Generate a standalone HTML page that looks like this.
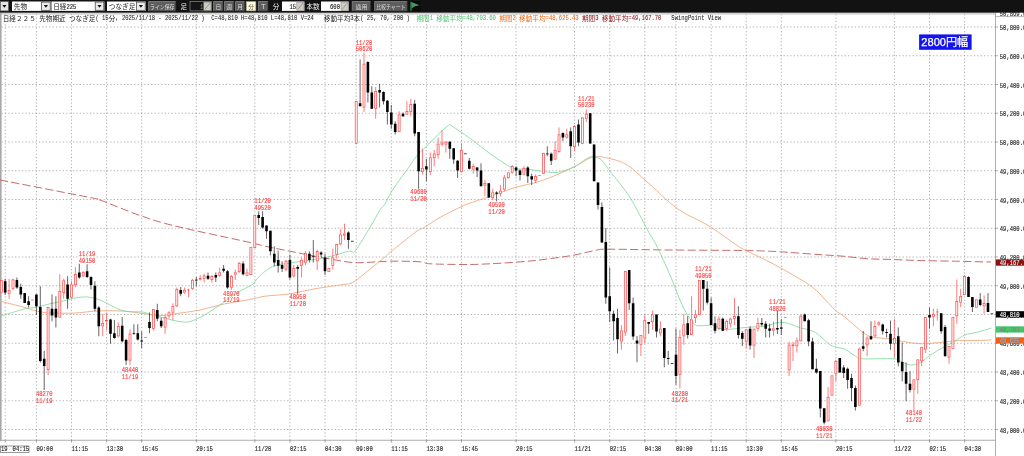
<!DOCTYPE html>
<html lang="ja"><head><meta charset="utf-8"><title>日経225 先物 チャート</title><style>
html,body{margin:0;padding:0;background:#fff;}
body{width:1024px;height:456px;position:relative;overflow:hidden;font-family:"Liberation Mono","Noto Sans CJK JP",monospace;}
svg{display:block;}
</style></head><body>
<svg width="1024" height="456" viewBox="0 0 1024 456" style="position:absolute;left:0;top:0">
<g stroke="#747474" stroke-width="0.55" stroke-dasharray="1.3 2.1" fill="none">
<path d="M1.5 429.50H995.5"/>
<path d="M1.5 400.75H995.5"/>
<path d="M1.5 372.00H995.5"/>
<path d="M1.5 343.25H995.5"/>
<path d="M1.5 314.50H995.5"/>
<path d="M1.5 285.75H995.5"/>
<path d="M1.5 257.00H995.5"/>
<path d="M1.5 228.25H995.5"/>
<path d="M1.5 199.50H995.5"/>
<path d="M1.5 170.75H995.5"/>
<path d="M1.5 142.00H995.5"/>
<path d="M1.5 113.25H995.5"/>
<path d="M1.5 84.50H995.5"/>
<path d="M1.5 55.75H995.5"/>
<path d="M1.5 27.00H995.5"/>
<path d="M5.25 14.0V440.25"/>
<path d="M36.40 14.0V440.25"/>
<path d="M71.50 14.0V440.25"/>
<path d="M106.60 14.0V440.25"/>
<path d="M141.70 14.0V440.25"/>
<path d="M196.30 14.0V440.25"/>
<path d="M254.80 14.0V440.25"/>
<path d="M289.90 14.0V440.25"/>
<path d="M325.00 14.0V440.25"/>
<path d="M356.20 14.0V440.25"/>
<path d="M391.30 14.0V440.25"/>
<path d="M426.40 14.0V440.25"/>
<path d="M461.50 14.0V440.25"/>
<path d="M516.10 14.0V440.25"/>
<path d="M574.60 14.0V440.25"/>
<path d="M609.70 14.0V440.25"/>
<path d="M644.80 14.0V440.25"/>
<path d="M676.00 14.0V440.25"/>
<path d="M711.10 14.0V440.25"/>
<path d="M746.20 14.0V440.25"/>
<path d="M781.30 14.0V440.25"/>
<path d="M835.90 14.0V440.25"/>
<path d="M894.40 14.0V440.25"/>
<path d="M929.50 14.0V440.25"/>
<path d="M964.60 14.0V440.25"/>
</g>
<path d="M0 13.8H995.5" stroke="#c4c4c4" stroke-width="1.2"/>
<rect x="0" y="13" width="1.6" height="427.75" fill="#a8a8a8"/>
<path d="M0 440.25H995.5" stroke="#999" stroke-width="0.8"/>
<path d="M995.5 13V456" stroke="#999" stroke-width="0.8"/>
<g stroke="#777" stroke-width="0.7">
<path d="M5.25 440.25v2.2"/>
<path d="M36.40 440.25v2.2"/>
<path d="M71.50 440.25v2.2"/>
<path d="M106.60 440.25v2.2"/>
<path d="M141.70 440.25v2.2"/>
<path d="M196.30 440.25v2.2"/>
<path d="M254.80 440.25v2.2"/>
<path d="M289.90 440.25v2.2"/>
<path d="M325.00 440.25v2.2"/>
<path d="M356.20 440.25v2.2"/>
<path d="M391.30 440.25v2.2"/>
<path d="M426.40 440.25v2.2"/>
<path d="M461.50 440.25v2.2"/>
<path d="M516.10 440.25v2.2"/>
<path d="M574.60 440.25v2.2"/>
<path d="M609.70 440.25v2.2"/>
<path d="M644.80 440.25v2.2"/>
<path d="M676.00 440.25v2.2"/>
<path d="M711.10 440.25v2.2"/>
<path d="M746.20 440.25v2.2"/>
<path d="M781.30 440.25v2.2"/>
<path d="M835.90 440.25v2.2"/>
<path d="M894.40 440.25v2.2"/>
<path d="M929.50 440.25v2.2"/>
<path d="M964.60 440.25v2.2"/>
</g>
<path d="M0.0 180.0C15.0 182.9 73.3 194.2 90.0 197.5C106.7 200.8 91.7 197.0 100.0 200.0C108.3 203.0 127.5 211.2 140.0 215.5C152.5 219.8 156.7 221.5 175.0 226.0C193.3 230.5 235.0 239.1 250.0 242.5C265.0 245.9 258.3 244.8 265.0 246.2C271.7 247.7 281.7 249.6 290.0 251.2C298.3 252.9 306.7 254.7 315.0 256.2C323.3 257.8 333.8 259.7 340.0 260.8C346.2 261.8 348.3 262.2 352.5 262.5C356.7 262.8 358.8 262.7 365.0 262.5C371.2 262.3 380.8 261.4 390.0 261.2C399.2 261.1 413.3 261.3 420.0 261.8C426.7 262.2 422.5 263.3 430.0 263.8C437.5 264.2 455.0 264.5 465.0 264.5C475.0 264.5 479.2 264.3 490.0 263.8C500.8 263.2 516.7 262.3 530.0 261.0C543.3 259.7 559.2 257.5 570.0 255.8C580.8 254.0 588.8 251.6 595.0 250.5C601.2 249.4 595.0 249.3 607.5 249.2C620.0 249.2 647.1 249.8 670.0 250.0C692.9 250.2 728.7 250.3 745.0 250.5C761.3 250.7 762.1 251.0 768.0 251.2C773.9 251.5 772.2 251.2 780.5 251.8C788.8 252.3 807.6 253.8 818.0 254.5C828.4 255.2 834.7 255.5 843.0 256.2C851.3 257.0 859.7 258.2 868.0 258.8C876.3 259.3 884.7 259.2 893.0 259.5C901.3 259.8 907.6 260.2 918.0 260.5C928.4 260.8 943.3 261.0 955.5 261.2C967.7 261.5 985.1 261.9 991.0 262.0" fill="none" stroke="#c05a5a" stroke-width="0.9" stroke-dasharray="8.2 3.3"/>
<path d="M0.0 301.2C4.2 302.3 18.8 305.8 25.0 307.5C31.2 309.2 33.3 310.3 37.5 311.2C41.7 312.2 43.8 312.7 50.0 313.0C56.2 313.3 66.7 313.4 75.0 313.0C83.3 312.6 91.7 311.0 100.0 310.8C108.3 310.5 116.7 310.6 125.0 311.2C133.3 311.9 143.8 313.8 150.0 314.5C156.2 315.2 158.3 315.6 162.5 315.5C166.7 315.4 168.8 314.7 175.0 313.8C181.2 312.8 191.7 311.7 200.0 310.0C208.3 308.3 216.7 305.5 225.0 303.8C233.3 302.0 243.3 300.8 250.0 299.5C256.7 298.2 258.3 297.2 265.0 296.2C271.7 295.3 281.7 295.0 290.0 293.8C298.3 292.5 306.7 290.2 315.0 288.8C323.3 287.3 333.8 286.0 340.0 285.0C346.2 284.0 348.3 284.5 352.5 282.5C356.7 280.5 359.8 277.3 365.0 273.2C370.2 269.1 379.8 261.2 384.0 257.8C388.2 254.3 384.8 256.7 390.0 252.5C395.2 248.3 409.2 236.8 415.0 232.5C420.8 228.2 420.8 229.5 425.0 227.0C429.2 224.5 433.3 221.2 440.0 217.5C446.7 213.8 456.7 208.5 465.0 205.0C473.3 201.5 481.7 199.4 490.0 196.5C498.3 193.6 506.7 190.0 515.0 187.5C523.3 185.0 531.7 184.0 540.0 181.2C548.3 178.5 558.8 174.0 565.0 171.2C571.2 168.5 573.3 167.2 577.5 165.0C581.7 162.8 587.1 159.2 590.0 158.0C592.9 156.8 592.9 157.7 595.0 157.5C597.1 157.3 597.5 156.0 602.5 157.0C607.5 158.0 617.9 159.9 625.0 163.8C632.1 167.6 636.2 172.5 645.0 180.0C653.8 187.5 667.1 201.2 677.5 208.8C687.9 216.2 697.9 219.1 707.5 225.0C717.1 230.9 728.8 239.8 735.0 244.0C741.2 248.2 739.5 247.1 745.0 250.0C750.5 252.9 760.0 257.1 768.0 261.2C776.0 265.4 785.5 270.6 793.0 275.0C800.5 279.4 807.6 283.3 813.0 287.5C818.4 291.7 821.8 296.1 825.5 300.0C829.2 303.9 832.6 308.0 835.5 310.6C838.4 313.2 839.7 313.0 843.0 315.6C846.3 318.2 852.2 323.4 855.5 326.2C858.8 329.1 860.7 330.8 863.0 332.5C865.3 334.2 867.2 335.0 869.2 336.2C870.9 336.7 871.1 337.1 874.2 337.5C877.4 337.9 884.4 338.3 888.0 338.8C891.6 339.2 892.6 339.4 896.0 340.0C899.4 340.6 904.3 341.9 908.5 342.5C912.7 343.1 916.8 343.6 921.0 343.8C925.2 343.9 929.3 343.4 933.5 343.1C937.7 342.8 941.8 342.3 946.0 341.9C950.2 341.5 953.3 340.8 958.5 340.6C963.7 340.4 971.7 340.7 977.2 340.6C982.8 340.5 989.2 339.9 991.6 339.8" fill="none" stroke="#f0a070" stroke-width="0.8"/>
<path d="M0.0 316.2C2.1 315.6 8.3 313.8 12.5 312.5C16.7 311.2 20.8 309.7 25.0 308.8C29.2 307.8 33.3 307.8 37.5 307.0C41.7 306.2 45.8 304.7 50.0 303.8C54.2 302.8 58.3 302.2 62.5 301.2C66.7 300.3 70.8 298.7 75.0 298.0C79.2 297.3 83.3 296.7 87.5 297.0C91.7 297.3 95.8 298.5 100.0 300.0C104.2 301.5 108.3 304.4 112.5 306.2C116.7 308.1 120.0 310.3 125.0 311.2C130.0 312.2 138.3 311.5 142.5 312.0C146.7 312.5 146.7 313.6 150.0 314.5C153.3 315.4 158.3 316.5 162.5 317.5C166.7 318.5 170.8 320.0 175.0 320.8C179.2 321.5 183.3 322.5 187.5 322.0C191.7 321.5 195.8 319.5 200.0 317.5C204.2 315.5 208.3 312.7 212.5 310.0C216.7 307.3 220.8 304.2 225.0 301.2C229.2 298.3 232.9 295.3 237.5 292.5C242.1 289.7 249.4 286.6 252.5 284.5C255.6 282.4 254.2 282.0 256.0 280.0C257.8 278.0 260.8 274.7 263.5 272.5C266.2 270.3 269.3 268.2 272.2 266.9C275.2 265.5 276.8 265.2 281.0 264.4C285.2 263.6 291.4 262.7 297.2 261.9C303.1 261.1 311.2 260.1 316.0 259.4C320.8 258.7 322.7 258.2 326.0 257.5C329.3 256.8 332.2 256.0 336.0 255.0C339.8 254.0 345.7 251.7 348.5 251.2C351.3 250.8 351.4 251.9 352.9 252.2C353.9 251.5 353.1 254.1 356.0 250.0C358.9 245.9 366.0 234.2 370.0 227.5C374.0 220.8 377.5 213.9 380.0 210.0C382.5 206.1 382.9 207.3 385.0 204.0C387.1 200.7 388.5 196.2 392.5 190.0C396.5 183.8 405.0 172.6 409.0 167.0C413.0 161.4 413.6 159.7 416.5 156.2C419.4 152.8 422.3 150.4 426.5 146.2C430.7 142.1 437.6 134.9 441.5 131.2C445.4 127.6 446.9 126.7 449.6 124.4C453.6 127.1 457.4 129.7 461.5 132.5C465.6 135.3 469.2 137.7 474.0 141.2C478.8 144.8 484.4 149.6 490.2 153.8C496.1 157.9 504.9 163.8 509.0 166.2C513.1 168.8 511.5 168.2 515.0 168.8C518.5 169.3 523.8 168.9 530.0 169.5C536.2 170.1 546.7 172.3 552.5 172.5C558.3 172.7 560.8 171.8 565.0 170.5C569.2 169.2 573.3 167.2 577.5 165.0C581.7 162.8 586.2 158.0 590.0 157.0C593.8 156.0 596.7 156.4 600.0 158.8C603.3 161.1 605.0 164.8 610.0 171.2C615.0 177.7 623.8 187.7 630.0 197.5C636.2 207.3 642.9 221.7 647.5 230.0C652.1 238.3 653.8 240.0 657.5 247.5C661.2 255.0 666.2 266.2 670.0 275.0C673.8 283.8 677.1 293.3 680.0 300.0C682.9 306.7 685.0 310.9 687.5 315.0C690.0 319.1 692.9 322.7 695.0 324.5C697.1 326.3 697.1 325.6 700.0 325.8C702.9 325.9 708.3 324.9 712.5 325.5C716.7 326.1 719.6 329.2 725.0 329.5C730.4 329.8 738.3 328.0 745.0 327.5C751.7 327.0 761.2 326.6 765.0 326.2C768.8 325.9 766.2 326.1 768.0 325.6C769.8 325.1 772.8 323.6 775.5 323.1C778.2 322.6 781.3 322.2 784.2 322.5C787.2 322.8 790.3 324.1 793.0 325.0C795.7 325.9 798.4 327.4 800.5 328.1C802.6 328.8 803.0 328.3 805.5 329.0C808.0 329.7 812.6 330.9 815.5 332.5C818.4 334.1 820.5 336.7 823.0 338.8C825.5 340.8 828.0 343.5 830.5 345.0C833.0 346.5 835.5 346.8 838.0 347.5C840.5 348.2 842.6 347.9 845.5 349.4C848.4 350.9 852.6 354.7 855.5 356.2C858.4 357.8 856.8 358.3 863.0 358.8C869.2 359.2 886.8 358.3 893.0 358.8C899.2 359.2 897.6 360.2 900.5 361.2C903.4 362.3 907.2 364.8 910.5 365.0C913.8 365.2 917.2 364.2 920.5 362.5C923.8 360.8 926.8 357.5 930.5 355.0C934.2 352.5 939.0 349.8 943.0 347.5C947.0 345.2 951.1 343.3 954.8 341.2C958.4 339.2 961.2 336.5 964.8 335.0C968.3 333.5 971.5 333.6 976.0 332.5C980.5 331.4 989.0 328.8 991.6 328.1" fill="none" stroke="#78d898" stroke-width="0.8"/>
<rect x="0.30" y="280.30" width="2.00" height="11.90" fill="#fff6f6" stroke="#ff4444" stroke-width="0.7"/>
<path d="M5.20 278.75V295.00" stroke="#222" stroke-width="0.7"/>
<rect x="3.90" y="281.25" width="2.60" height="11.25" fill="#000"/>
<path d="M9.10 278.75V290.00" stroke="#ff4444" stroke-width="0.7"/>
<path d="M9.10 293.75V298.75" stroke="#ff4444" stroke-width="0.7"/>
<rect x="8.10" y="290.30" width="2.00" height="3.15" fill="#fff6f6" stroke="#ff4444" stroke-width="0.7"/>
<path d="M13.00 278.75V279.50" stroke="#ff4444" stroke-width="0.7"/>
<path d="M13.00 288.75V290.00" stroke="#ff4444" stroke-width="0.7"/>
<rect x="12.00" y="279.80" width="2.00" height="8.65" fill="#fff6f6" stroke="#ff4444" stroke-width="0.7"/>
<path d="M16.90 277.50V288.75" stroke="#222" stroke-width="0.7"/>
<rect x="15.60" y="280.00" width="2.60" height="7.50" fill="#000"/>
<path d="M20.80 283.75V298.75" stroke="#222" stroke-width="0.7"/>
<rect x="19.50" y="287.00" width="2.60" height="7.50" fill="#000"/>
<path d="M24.70 293.00V303.00" stroke="#222" stroke-width="0.7"/>
<rect x="23.40" y="293.00" width="2.60" height="10.00" fill="#000"/>
<path d="M28.60 296.25V307.50" stroke="#222" stroke-width="0.7"/>
<rect x="27.30" y="301.25" width="2.60" height="3.75" fill="#000"/>
<path d="M32.50 300.00V300.00M31.20 300.00h2.6" stroke="#ff4444" stroke-width="0.7" fill="none"/>
<path d="M36.40 294.50V315.00" stroke="#222" stroke-width="0.7"/>
<rect x="35.10" y="294.50" width="2.60" height="11.75" fill="#000"/>
<path d="M40.30 286.25V362.50" stroke="#222" stroke-width="0.7"/>
<rect x="39.00" y="307.00" width="2.60" height="54.00" fill="#000"/>
<path d="M44.20 351.00V390.00" stroke="#222" stroke-width="0.7"/>
<rect x="42.90" y="358.75" width="2.60" height="7.25" fill="#000"/>
<path d="M48.10 370.00V375.00" stroke="#ff4444" stroke-width="0.7"/>
<rect x="47.10" y="307.30" width="2.00" height="62.40" fill="#fff6f6" stroke="#ff4444" stroke-width="0.7"/>
<path d="M52.00 294.50V321.25" stroke="#222" stroke-width="0.7"/>
<rect x="50.70" y="308.75" width="2.60" height="6.75" fill="#000"/>
<path d="M55.90 296.25V327.50" stroke="#222" stroke-width="0.7"/>
<rect x="54.60" y="308.75" width="2.60" height="8.75" fill="#000"/>
<path d="M59.80 274.25V291.25" stroke="#ff4444" stroke-width="0.7"/>
<rect x="58.80" y="291.55" width="2.00" height="25.65" fill="#fff6f6" stroke="#ff4444" stroke-width="0.7"/>
<path d="M63.70 278.75V280.50" stroke="#ff4444" stroke-width="0.7"/>
<path d="M63.70 293.00V298.75" stroke="#ff4444" stroke-width="0.7"/>
<rect x="62.70" y="280.80" width="2.00" height="11.90" fill="#fff6f6" stroke="#ff4444" stroke-width="0.7"/>
<path d="M67.60 276.25V308.75" stroke="#222" stroke-width="0.7"/>
<rect x="66.30" y="284.50" width="2.60" height="14.25" fill="#000"/>
<path d="M71.50 281.25V284.50" stroke="#ff4444" stroke-width="0.7"/>
<path d="M71.50 297.50V298.75" stroke="#ff4444" stroke-width="0.7"/>
<rect x="70.50" y="284.80" width="2.00" height="12.40" fill="#fff6f6" stroke="#ff4444" stroke-width="0.7"/>
<path d="M75.40 267.00V274.25" stroke="#ff4444" stroke-width="0.7"/>
<path d="M75.40 285.00V287.50" stroke="#ff4444" stroke-width="0.7"/>
<rect x="74.40" y="274.55" width="2.00" height="10.15" fill="#fff6f6" stroke="#ff4444" stroke-width="0.7"/>
<path d="M79.30 263.75V278.75" stroke="#222" stroke-width="0.7"/>
<rect x="78.00" y="272.50" width="2.60" height="5.00" fill="#000"/>
<path d="M83.20 271.25V272.00" stroke="#ff4444" stroke-width="0.7"/>
<path d="M83.20 276.25V277.00" stroke="#ff4444" stroke-width="0.7"/>
<rect x="82.20" y="272.30" width="2.00" height="3.65" fill="#fff6f6" stroke="#ff4444" stroke-width="0.7"/>
<path d="M87.10 264.25V278.00" stroke="#222" stroke-width="0.7"/>
<rect x="85.80" y="271.25" width="2.60" height="5.75" fill="#000"/>
<path d="M91.00 276.25V289.50" stroke="#222" stroke-width="0.7"/>
<rect x="89.70" y="277.00" width="2.60" height="8.00" fill="#000"/>
<path d="M94.90 281.25V311.25" stroke="#222" stroke-width="0.7"/>
<rect x="93.60" y="285.75" width="2.60" height="23.00" fill="#000"/>
<path d="M98.80 306.25V336.25" stroke="#222" stroke-width="0.7"/>
<rect x="97.50" y="307.50" width="2.60" height="18.75" fill="#000"/>
<path d="M102.70 313.75V323.25" stroke="#ff4444" stroke-width="0.7"/>
<path d="M102.70 326.25V336.25" stroke="#ff4444" stroke-width="0.7"/>
<rect x="101.70" y="323.55" width="2.00" height="2.40" fill="#fff6f6" stroke="#ff4444" stroke-width="0.7"/>
<path d="M106.60 312.50V320.25" stroke="#ff4444" stroke-width="0.7"/>
<path d="M106.60 321.25V330.00" stroke="#ff4444" stroke-width="0.7"/>
<rect x="105.60" y="320.55" width="2.00" height="0.40" fill="#fff6f6" stroke="#ff4444" stroke-width="0.7"/>
<path d="M110.50 318.75V343.75" stroke="#222" stroke-width="0.7"/>
<rect x="109.20" y="319.50" width="2.60" height="14.25" fill="#000"/>
<path d="M114.40 320.00V338.75" stroke="#222" stroke-width="0.7"/>
<rect x="113.10" y="333.25" width="2.60" height="4.75" fill="#000"/>
<path d="M118.30 322.50V326.25" stroke="#ff4444" stroke-width="0.7"/>
<path d="M118.30 336.25V337.50" stroke="#ff4444" stroke-width="0.7"/>
<rect x="117.30" y="326.55" width="2.00" height="9.40" fill="#fff6f6" stroke="#ff4444" stroke-width="0.7"/>
<path d="M122.20 317.00V342.50" stroke="#222" stroke-width="0.7"/>
<rect x="120.90" y="325.75" width="2.60" height="15.50" fill="#000"/>
<path d="M126.10 338.75V365.00" stroke="#222" stroke-width="0.7"/>
<rect x="124.80" y="340.00" width="2.60" height="20.50" fill="#000"/>
<path d="M130.00 329.50V333.75" stroke="#ff4444" stroke-width="0.7"/>
<path d="M130.00 360.50V365.00" stroke="#ff4444" stroke-width="0.7"/>
<rect x="129.00" y="334.05" width="2.00" height="26.15" fill="#fff6f6" stroke="#ff4444" stroke-width="0.7"/>
<path d="M133.90 324.25V335.00" stroke="#222" stroke-width="0.7"/>
<path d="M132.60 333.38h2.6" stroke="#111" stroke-width="0.8"/>
<path d="M137.80 324.25V340.50" stroke="#222" stroke-width="0.7"/>
<rect x="136.50" y="333.25" width="2.60" height="6.25" fill="#000"/>
<path d="M141.70 331.25V348.25" stroke="#222" stroke-width="0.7"/>
<rect x="140.40" y="340.50" width="2.60" height="1.00" fill="#000"/>
<path d="M145.60 337.50V337.50M144.30 337.50h2.6" stroke="#ff4444" stroke-width="0.7" fill="none"/>
<path d="M149.50 312.50V333.25" stroke="#222" stroke-width="0.7"/>
<rect x="148.20" y="322.00" width="2.60" height="6.00" fill="#000"/>
<path d="M153.40 308.75V309.25" stroke="#ff4444" stroke-width="0.7"/>
<path d="M153.40 328.75V330.50" stroke="#ff4444" stroke-width="0.7"/>
<rect x="152.40" y="309.55" width="2.00" height="18.90" fill="#fff6f6" stroke="#ff4444" stroke-width="0.7"/>
<path d="M157.30 303.75V321.25" stroke="#222" stroke-width="0.7"/>
<rect x="156.00" y="310.00" width="2.60" height="8.75" fill="#000"/>
<path d="M161.20 317.50V328.00" stroke="#222" stroke-width="0.7"/>
<rect x="159.90" y="320.75" width="2.60" height="5.50" fill="#000"/>
<path d="M165.10 315.50V317.00" stroke="#ff4444" stroke-width="0.7"/>
<path d="M165.10 327.50V333.75" stroke="#ff4444" stroke-width="0.7"/>
<rect x="164.10" y="317.30" width="2.00" height="9.90" fill="#fff6f6" stroke="#ff4444" stroke-width="0.7"/>
<path d="M169.00 311.25V312.50" stroke="#ff4444" stroke-width="0.7"/>
<path d="M169.00 316.25V318.75" stroke="#ff4444" stroke-width="0.7"/>
<rect x="168.00" y="312.80" width="2.00" height="3.15" fill="#fff6f6" stroke="#ff4444" stroke-width="0.7"/>
<path d="M172.90 303.25V306.25" stroke="#ff4444" stroke-width="0.7"/>
<path d="M172.90 312.50V320.00" stroke="#ff4444" stroke-width="0.7"/>
<rect x="171.90" y="306.55" width="2.00" height="5.65" fill="#fff6f6" stroke="#ff4444" stroke-width="0.7"/>
<path d="M176.80 287.50V289.25" stroke="#ff4444" stroke-width="0.7"/>
<path d="M176.80 306.25V307.00" stroke="#ff4444" stroke-width="0.7"/>
<rect x="175.80" y="289.55" width="2.00" height="16.40" fill="#fff6f6" stroke="#ff4444" stroke-width="0.7"/>
<path d="M180.70 287.00V296.25" stroke="#222" stroke-width="0.7"/>
<rect x="179.40" y="290.00" width="2.60" height="3.75" fill="#000"/>
<path d="M184.60 287.50V290.00" stroke="#ff4444" stroke-width="0.7"/>
<path d="M184.60 292.50V293.75" stroke="#ff4444" stroke-width="0.7"/>
<rect x="183.60" y="290.30" width="2.00" height="1.90" fill="#fff6f6" stroke="#ff4444" stroke-width="0.7"/>
<path d="M188.50 288.75V297.00M187.20 290.12h2.6" stroke="#ff4444" stroke-width="0.7" fill="none"/>
<path d="M192.40 278.75V280.00" stroke="#ff4444" stroke-width="0.7"/>
<path d="M192.40 288.75V290.00" stroke="#ff4444" stroke-width="0.7"/>
<rect x="191.40" y="280.30" width="2.00" height="8.15" fill="#fff6f6" stroke="#ff4444" stroke-width="0.7"/>
<path d="M196.30 277.00V286.25" stroke="#222" stroke-width="0.7"/>
<path d="M195.00 280.12h2.6" stroke="#111" stroke-width="0.8"/>
<path d="M200.20 275.00V278.00" stroke="#ff4444" stroke-width="0.7"/>
<path d="M200.20 279.50V280.50" stroke="#ff4444" stroke-width="0.7"/>
<rect x="199.20" y="278.30" width="2.00" height="0.90" fill="#fff6f6" stroke="#ff4444" stroke-width="0.7"/>
<path d="M204.10 273.75V275.50" stroke="#ff4444" stroke-width="0.7"/>
<path d="M204.10 278.75V282.50" stroke="#ff4444" stroke-width="0.7"/>
<rect x="203.10" y="275.80" width="2.00" height="2.65" fill="#fff6f6" stroke="#ff4444" stroke-width="0.7"/>
<path d="M208.00 272.50V280.00" stroke="#222" stroke-width="0.7"/>
<rect x="206.70" y="275.75" width="2.60" height="3.00" fill="#000"/>
<path d="M211.90 275.00V276.25" stroke="#ff4444" stroke-width="0.7"/>
<path d="M211.90 280.00V282.50" stroke="#ff4444" stroke-width="0.7"/>
<rect x="210.90" y="276.55" width="2.00" height="3.15" fill="#fff6f6" stroke="#ff4444" stroke-width="0.7"/>
<path d="M215.80 272.50V282.00" stroke="#222" stroke-width="0.7"/>
<rect x="214.50" y="275.00" width="2.60" height="2.50" fill="#000"/>
<path d="M219.70 267.50V272.50" stroke="#ff4444" stroke-width="0.7"/>
<path d="M219.70 275.75V277.00" stroke="#ff4444" stroke-width="0.7"/>
<rect x="218.70" y="272.80" width="2.00" height="2.65" fill="#fff6f6" stroke="#ff4444" stroke-width="0.7"/>
<path d="M223.60 265.00V272.50" stroke="#222" stroke-width="0.7"/>
<rect x="222.30" y="268.75" width="2.60" height="2.00" fill="#000"/>
<path d="M227.50 270.00V288.75" stroke="#222" stroke-width="0.7"/>
<rect x="226.20" y="271.25" width="2.60" height="16.25" fill="#000"/>
<path d="M231.40 275.00V276.25" stroke="#ff4444" stroke-width="0.7"/>
<path d="M231.40 287.50V290.00" stroke="#ff4444" stroke-width="0.7"/>
<rect x="230.40" y="276.55" width="2.00" height="10.65" fill="#fff6f6" stroke="#ff4444" stroke-width="0.7"/>
<path d="M235.30 269.50V272.50" stroke="#ff4444" stroke-width="0.7"/>
<path d="M235.30 274.50V280.00" stroke="#ff4444" stroke-width="0.7"/>
<rect x="234.30" y="272.80" width="2.00" height="1.40" fill="#fff6f6" stroke="#ff4444" stroke-width="0.7"/>
<path d="M239.20 262.00V263.00" stroke="#ff4444" stroke-width="0.7"/>
<path d="M239.20 272.00V273.00" stroke="#ff4444" stroke-width="0.7"/>
<rect x="238.20" y="263.30" width="2.00" height="8.40" fill="#fff6f6" stroke="#ff4444" stroke-width="0.7"/>
<path d="M243.10 261.25V275.50" stroke="#222" stroke-width="0.7"/>
<rect x="241.80" y="263.50" width="2.60" height="10.75" fill="#000"/>
<path d="M247.00 268.75V272.50" stroke="#ff4444" stroke-width="0.7"/>
<path d="M247.00 275.75V276.25" stroke="#ff4444" stroke-width="0.7"/>
<rect x="246.00" y="272.80" width="2.00" height="2.65" fill="#fff6f6" stroke="#ff4444" stroke-width="0.7"/>
<rect x="249.90" y="247.30" width="2.00" height="27.40" fill="#fff6f6" stroke="#ff4444" stroke-width="0.7"/>
<rect x="253.80" y="215.30" width="2.00" height="32.40" fill="#fff6f6" stroke="#ff4444" stroke-width="0.7"/>
<path d="M258.70 211.25V225.00" stroke="#222" stroke-width="0.7"/>
<rect x="257.40" y="215.00" width="2.60" height="3.00" fill="#000"/>
<path d="M262.60 211.25V228.75" stroke="#222" stroke-width="0.7"/>
<rect x="261.30" y="217.00" width="2.60" height="10.50" fill="#000"/>
<path d="M266.50 225.50V238.75" stroke="#222" stroke-width="0.7"/>
<rect x="265.20" y="225.50" width="2.60" height="5.75" fill="#000"/>
<path d="M270.40 230.75V255.50" stroke="#222" stroke-width="0.7"/>
<rect x="269.10" y="230.75" width="2.60" height="20.50" fill="#000"/>
<path d="M274.30 246.25V266.25" stroke="#222" stroke-width="0.7"/>
<rect x="273.00" y="253.75" width="2.60" height="8.75" fill="#000"/>
<path d="M278.20 250.75V272.50" stroke="#222" stroke-width="0.7"/>
<rect x="276.90" y="260.00" width="2.60" height="5.75" fill="#000"/>
<path d="M282.10 261.25V272.00" stroke="#222" stroke-width="0.7"/>
<rect x="280.80" y="265.00" width="2.60" height="3.75" fill="#000"/>
<path d="M286.00 260.00V260.75" stroke="#ff4444" stroke-width="0.7"/>
<path d="M286.00 269.50V271.25" stroke="#ff4444" stroke-width="0.7"/>
<rect x="285.00" y="261.05" width="2.00" height="8.15" fill="#fff6f6" stroke="#ff4444" stroke-width="0.7"/>
<path d="M289.90 254.50V279.50" stroke="#222" stroke-width="0.7"/>
<rect x="288.60" y="260.00" width="2.60" height="17.50" fill="#000"/>
<path d="M293.80 265.00V268.00" stroke="#ff4444" stroke-width="0.7"/>
<path d="M293.80 276.25V277.50" stroke="#ff4444" stroke-width="0.7"/>
<rect x="292.80" y="268.30" width="2.00" height="7.65" fill="#fff6f6" stroke="#ff4444" stroke-width="0.7"/>
<path d="M297.70 265.00V293.75" stroke="#222" stroke-width="0.7"/>
<rect x="296.40" y="267.00" width="2.60" height="1.75" fill="#000"/>
<path d="M301.60 257.50V260.00" stroke="#ff4444" stroke-width="0.7"/>
<path d="M301.60 265.75V277.50" stroke="#ff4444" stroke-width="0.7"/>
<rect x="300.60" y="260.30" width="2.00" height="5.15" fill="#fff6f6" stroke="#ff4444" stroke-width="0.7"/>
<path d="M305.50 251.25V253.00" stroke="#ff4444" stroke-width="0.7"/>
<path d="M305.50 262.50V265.00" stroke="#ff4444" stroke-width="0.7"/>
<rect x="304.50" y="253.30" width="2.00" height="8.90" fill="#fff6f6" stroke="#ff4444" stroke-width="0.7"/>
<path d="M309.40 251.25V262.50" stroke="#222" stroke-width="0.7"/>
<rect x="308.10" y="253.75" width="2.60" height="6.25" fill="#000"/>
<path d="M313.30 240.00V262.50" stroke="#222" stroke-width="0.7"/>
<path d="M312.00 256.62h2.6" stroke="#111" stroke-width="0.8"/>
<path d="M317.20 249.50V251.25" stroke="#ff4444" stroke-width="0.7"/>
<path d="M317.20 261.25V270.00" stroke="#ff4444" stroke-width="0.7"/>
<rect x="316.20" y="251.55" width="2.00" height="9.40" fill="#fff6f6" stroke="#ff4444" stroke-width="0.7"/>
<path d="M321.10 251.25V257.50" stroke="#222" stroke-width="0.7"/>
<rect x="319.80" y="252.50" width="2.60" height="2.00" fill="#000"/>
<path d="M325.00 253.75V275.00" stroke="#222" stroke-width="0.7"/>
<rect x="323.70" y="257.50" width="2.60" height="13.75" fill="#000"/>
<rect x="327.90" y="268.30" width="2.00" height="3.40" fill="#fff6f6" stroke="#ff4444" stroke-width="0.7"/>
<path d="M332.80 248.75V257.50" stroke="#ff4444" stroke-width="0.7"/>
<path d="M332.80 265.75V269.50" stroke="#ff4444" stroke-width="0.7"/>
<rect x="331.80" y="257.80" width="2.00" height="7.65" fill="#fff6f6" stroke="#ff4444" stroke-width="0.7"/>
<path d="M336.70 243.75V244.25" stroke="#ff4444" stroke-width="0.7"/>
<path d="M336.70 254.50V258.75" stroke="#ff4444" stroke-width="0.7"/>
<rect x="335.70" y="244.55" width="2.00" height="9.65" fill="#fff6f6" stroke="#ff4444" stroke-width="0.7"/>
<path d="M340.60 229.50V234.50" stroke="#ff4444" stroke-width="0.7"/>
<path d="M340.60 244.25V245.00" stroke="#ff4444" stroke-width="0.7"/>
<rect x="339.60" y="234.80" width="2.00" height="9.15" fill="#fff6f6" stroke="#ff4444" stroke-width="0.7"/>
<path d="M344.50 223.75V233.75" stroke="#ff4444" stroke-width="0.7"/>
<path d="M344.50 235.50V240.00" stroke="#ff4444" stroke-width="0.7"/>
<rect x="343.50" y="234.05" width="2.00" height="1.15" fill="#fff6f6" stroke="#ff4444" stroke-width="0.7"/>
<path d="M348.40 231.25V248.75" stroke="#222" stroke-width="0.7"/>
<rect x="347.10" y="232.50" width="2.60" height="7.50" fill="#000"/>
<path d="M351.00 241.25h2.6" stroke="#111" stroke-width="0.8"/>
<rect x="355.20" y="101.55" width="2.00" height="41.90" fill="#fff6f6" stroke="#ff4444" stroke-width="0.7"/>
<path d="M360.10 59.50V106.25" stroke="#222" stroke-width="0.7"/>
<rect x="358.80" y="103.25" width="2.60" height="3.00" fill="#000"/>
<path d="M364.00 52.50V63.75" stroke="#ff4444" stroke-width="0.7"/>
<path d="M364.00 107.50V112.00" stroke="#ff4444" stroke-width="0.7"/>
<rect x="363.00" y="64.05" width="2.00" height="43.15" fill="#fff6f6" stroke="#ff4444" stroke-width="0.7"/>
<path d="M367.90 61.25V102.50" stroke="#222" stroke-width="0.7"/>
<rect x="366.60" y="62.00" width="2.60" height="30.50" fill="#000"/>
<path d="M371.80 86.25V108.75" stroke="#222" stroke-width="0.7"/>
<rect x="370.50" y="92.50" width="2.60" height="16.25" fill="#000"/>
<path d="M375.70 87.00V91.25" stroke="#ff4444" stroke-width="0.7"/>
<path d="M375.70 108.75V118.75" stroke="#ff4444" stroke-width="0.7"/>
<rect x="374.70" y="91.55" width="2.00" height="16.90" fill="#fff6f6" stroke="#ff4444" stroke-width="0.7"/>
<path d="M379.60 83.75V107.50" stroke="#222" stroke-width="0.7"/>
<rect x="378.30" y="90.00" width="2.60" height="2.50" fill="#000"/>
<path d="M383.50 91.25V104.50" stroke="#222" stroke-width="0.7"/>
<rect x="382.20" y="92.00" width="2.60" height="9.25" fill="#000"/>
<path d="M387.40 100.00V124.50" stroke="#222" stroke-width="0.7"/>
<rect x="386.10" y="100.75" width="2.60" height="11.25" fill="#000"/>
<path d="M391.30 105.00V128.75" stroke="#222" stroke-width="0.7"/>
<rect x="390.00" y="112.50" width="2.60" height="12.00" fill="#000"/>
<path d="M395.20 121.25V134.50" stroke="#222" stroke-width="0.7"/>
<rect x="393.90" y="123.75" width="2.60" height="8.25" fill="#000"/>
<path d="M399.10 111.25V114.50" stroke="#ff4444" stroke-width="0.7"/>
<rect x="398.10" y="114.80" width="2.00" height="16.90" fill="#fff6f6" stroke="#ff4444" stroke-width="0.7"/>
<path d="M403.00 112.50V117.00" stroke="#222" stroke-width="0.7"/>
<rect x="401.70" y="113.75" width="2.60" height="2.50" fill="#000"/>
<path d="M406.90 101.25V111.25" stroke="#ff4444" stroke-width="0.7"/>
<path d="M406.90 114.50V115.00" stroke="#ff4444" stroke-width="0.7"/>
<rect x="405.90" y="111.55" width="2.00" height="2.65" fill="#fff6f6" stroke="#ff4444" stroke-width="0.7"/>
<path d="M410.80 98.75V104.25" stroke="#ff4444" stroke-width="0.7"/>
<path d="M410.80 112.00V116.25" stroke="#ff4444" stroke-width="0.7"/>
<rect x="409.80" y="104.55" width="2.00" height="7.15" fill="#fff6f6" stroke="#ff4444" stroke-width="0.7"/>
<path d="M414.70 100.00V136.25" stroke="#222" stroke-width="0.7"/>
<rect x="413.40" y="103.75" width="2.60" height="29.75" fill="#000"/>
<path d="M418.60 132.00V188.75" stroke="#222" stroke-width="0.7"/>
<rect x="417.30" y="132.00" width="2.60" height="39.25" fill="#000"/>
<path d="M422.50 148.75V168.00" stroke="#ff4444" stroke-width="0.7"/>
<path d="M422.50 172.00V174.50" stroke="#ff4444" stroke-width="0.7"/>
<rect x="421.50" y="168.30" width="2.00" height="3.40" fill="#fff6f6" stroke="#ff4444" stroke-width="0.7"/>
<path d="M426.40 158.75V181.25" stroke="#222" stroke-width="0.7"/>
<rect x="425.10" y="166.25" width="2.60" height="3.25" fill="#000"/>
<path d="M430.30 152.50V157.50" stroke="#ff4444" stroke-width="0.7"/>
<path d="M430.30 172.00V175.00" stroke="#ff4444" stroke-width="0.7"/>
<rect x="429.30" y="157.80" width="2.00" height="13.90" fill="#fff6f6" stroke="#ff4444" stroke-width="0.7"/>
<path d="M434.20 150.00V153.75" stroke="#ff4444" stroke-width="0.7"/>
<path d="M434.20 158.00V166.25" stroke="#ff4444" stroke-width="0.7"/>
<rect x="433.20" y="154.05" width="2.00" height="3.65" fill="#fff6f6" stroke="#ff4444" stroke-width="0.7"/>
<path d="M438.10 137.50V143.75" stroke="#ff4444" stroke-width="0.7"/>
<path d="M438.10 155.00V158.75" stroke="#ff4444" stroke-width="0.7"/>
<rect x="437.10" y="144.05" width="2.00" height="10.65" fill="#fff6f6" stroke="#ff4444" stroke-width="0.7"/>
<path d="M442.00 130.00V142.50" stroke="#ff4444" stroke-width="0.7"/>
<path d="M442.00 144.50V146.25" stroke="#ff4444" stroke-width="0.7"/>
<rect x="441.00" y="142.80" width="2.00" height="1.40" fill="#fff6f6" stroke="#ff4444" stroke-width="0.7"/>
<path d="M445.90 141.25V141.75" stroke="#ff4444" stroke-width="0.7"/>
<path d="M445.90 144.50V152.50" stroke="#ff4444" stroke-width="0.7"/>
<rect x="444.90" y="142.05" width="2.00" height="2.15" fill="#fff6f6" stroke="#ff4444" stroke-width="0.7"/>
<path d="M449.80 141.25V158.75" stroke="#222" stroke-width="0.7"/>
<rect x="448.50" y="141.75" width="2.60" height="7.00" fill="#000"/>
<path d="M453.70 148.25V163.75" stroke="#222" stroke-width="0.7"/>
<rect x="452.40" y="148.25" width="2.60" height="11.25" fill="#000"/>
<path d="M457.60 160.00V178.00" stroke="#222" stroke-width="0.7"/>
<rect x="456.30" y="160.75" width="2.60" height="9.75" fill="#000"/>
<path d="M461.50 143.75V150.00" stroke="#ff4444" stroke-width="0.7"/>
<path d="M461.50 172.00V172.50" stroke="#ff4444" stroke-width="0.7"/>
<rect x="460.50" y="150.30" width="2.00" height="21.40" fill="#fff6f6" stroke="#ff4444" stroke-width="0.7"/>
<path d="M464.10 153.75h2.6" stroke="#111" stroke-width="0.8"/>
<path d="M469.30 158.00V169.50" stroke="#222" stroke-width="0.7"/>
<rect x="468.00" y="160.75" width="2.60" height="8.00" fill="#000"/>
<path d="M473.20 163.75V166.25" stroke="#ff4444" stroke-width="0.7"/>
<path d="M473.20 169.50V173.75" stroke="#ff4444" stroke-width="0.7"/>
<rect x="472.20" y="166.55" width="2.00" height="2.65" fill="#fff6f6" stroke="#ff4444" stroke-width="0.7"/>
<path d="M477.10 167.00V177.00" stroke="#222" stroke-width="0.7"/>
<rect x="475.80" y="167.50" width="2.60" height="3.00" fill="#000"/>
<path d="M481.00 163.25V186.25" stroke="#222" stroke-width="0.7"/>
<rect x="479.70" y="170.50" width="2.60" height="15.75" fill="#000"/>
<path d="M484.90 180.00V183.25" stroke="#ff4444" stroke-width="0.7"/>
<path d="M484.90 185.50V196.25" stroke="#ff4444" stroke-width="0.7"/>
<rect x="483.90" y="183.55" width="2.00" height="1.65" fill="#fff6f6" stroke="#ff4444" stroke-width="0.7"/>
<path d="M488.80 183.25V198.00" stroke="#222" stroke-width="0.7"/>
<rect x="487.50" y="183.25" width="2.60" height="14.25" fill="#000"/>
<path d="M492.70 188.75V192.50" stroke="#ff4444" stroke-width="0.7"/>
<path d="M492.70 198.00V200.00" stroke="#ff4444" stroke-width="0.7"/>
<rect x="491.70" y="192.80" width="2.00" height="4.90" fill="#fff6f6" stroke="#ff4444" stroke-width="0.7"/>
<path d="M496.60 191.25V201.25" stroke="#222" stroke-width="0.7"/>
<rect x="495.30" y="192.50" width="2.60" height="1.25" fill="#000"/>
<path d="M500.50 185.00V190.75" stroke="#ff4444" stroke-width="0.7"/>
<path d="M500.50 193.75V196.25" stroke="#ff4444" stroke-width="0.7"/>
<rect x="499.50" y="191.05" width="2.00" height="2.40" fill="#fff6f6" stroke="#ff4444" stroke-width="0.7"/>
<path d="M504.40 175.00V177.50" stroke="#ff4444" stroke-width="0.7"/>
<path d="M504.40 189.50V191.25" stroke="#ff4444" stroke-width="0.7"/>
<rect x="503.40" y="177.80" width="2.00" height="11.40" fill="#fff6f6" stroke="#ff4444" stroke-width="0.7"/>
<path d="M508.30 178.00V178.75" stroke="#ff4444" stroke-width="0.7"/>
<rect x="507.30" y="172.80" width="2.00" height="4.90" fill="#fff6f6" stroke="#ff4444" stroke-width="0.7"/>
<path d="M512.20 165.00V166.25" stroke="#ff4444" stroke-width="0.7"/>
<path d="M512.20 172.50V173.75" stroke="#ff4444" stroke-width="0.7"/>
<rect x="511.20" y="166.55" width="2.00" height="5.65" fill="#fff6f6" stroke="#ff4444" stroke-width="0.7"/>
<path d="M516.10 166.25V176.25" stroke="#222" stroke-width="0.7"/>
<rect x="514.80" y="167.50" width="2.60" height="3.00" fill="#000"/>
<path d="M520.00 169.50V180.50" stroke="#222" stroke-width="0.7"/>
<rect x="518.70" y="170.50" width="2.60" height="4.50" fill="#000"/>
<path d="M523.90 166.25V168.00" stroke="#ff4444" stroke-width="0.7"/>
<path d="M523.90 174.50V175.00" stroke="#ff4444" stroke-width="0.7"/>
<rect x="522.90" y="168.30" width="2.00" height="5.90" fill="#fff6f6" stroke="#ff4444" stroke-width="0.7"/>
<path d="M527.80 166.25V183.00" stroke="#222" stroke-width="0.7"/>
<rect x="526.50" y="167.50" width="2.60" height="8.75" fill="#000"/>
<path d="M531.70 173.75V185.00" stroke="#222" stroke-width="0.7"/>
<rect x="530.40" y="176.25" width="2.60" height="3.25" fill="#000"/>
<path d="M535.60 174.50V176.25" stroke="#ff4444" stroke-width="0.7"/>
<path d="M535.60 180.50V183.00" stroke="#ff4444" stroke-width="0.7"/>
<rect x="534.60" y="176.55" width="2.00" height="3.65" fill="#fff6f6" stroke="#ff4444" stroke-width="0.7"/>
<path d="M539.50 175.50V175.50M538.20 175.50h2.6" stroke="#ff4444" stroke-width="0.7" fill="none"/>
<rect x="542.40" y="153.30" width="2.00" height="20.15" fill="#fff6f6" stroke="#ff4444" stroke-width="0.7"/>
<path d="M547.30 146.25V156.25" stroke="#222" stroke-width="0.7"/>
<path d="M546.00 153.88h2.6" stroke="#111" stroke-width="0.8"/>
<path d="M551.20 152.50V165.00" stroke="#222" stroke-width="0.7"/>
<rect x="549.90" y="153.75" width="2.60" height="7.00" fill="#000"/>
<path d="M555.10 141.25V150.00" stroke="#ff4444" stroke-width="0.7"/>
<rect x="554.10" y="150.30" width="2.00" height="8.90" fill="#fff6f6" stroke="#ff4444" stroke-width="0.7"/>
<path d="M559.00 127.50V134.50" stroke="#ff4444" stroke-width="0.7"/>
<path d="M559.00 152.00V152.50" stroke="#ff4444" stroke-width="0.7"/>
<rect x="558.00" y="134.80" width="2.00" height="16.90" fill="#fff6f6" stroke="#ff4444" stroke-width="0.7"/>
<path d="M562.90 132.50V141.00" stroke="#222" stroke-width="0.7"/>
<rect x="561.60" y="133.00" width="2.60" height="4.50" fill="#000"/>
<path d="M566.80 128.75V134.50" stroke="#ff4444" stroke-width="0.7"/>
<path d="M566.80 137.50V138.75" stroke="#ff4444" stroke-width="0.7"/>
<rect x="565.80" y="134.80" width="2.00" height="2.40" fill="#fff6f6" stroke="#ff4444" stroke-width="0.7"/>
<path d="M570.70 127.50V158.00" stroke="#222" stroke-width="0.7"/>
<rect x="569.40" y="131.25" width="2.60" height="15.00" fill="#000"/>
<path d="M574.60 125.00V126.25" stroke="#ff4444" stroke-width="0.7"/>
<path d="M574.60 147.00V151.25" stroke="#ff4444" stroke-width="0.7"/>
<rect x="573.60" y="126.55" width="2.00" height="20.15" fill="#fff6f6" stroke="#ff4444" stroke-width="0.7"/>
<path d="M578.50 119.50V146.25" stroke="#222" stroke-width="0.7"/>
<rect x="577.20" y="124.50" width="2.60" height="18.00" fill="#000"/>
<rect x="581.40" y="117.80" width="2.00" height="25.65" fill="#fff6f6" stroke="#ff4444" stroke-width="0.7"/>
<path d="M586.30 109.50V113.75" stroke="#ff4444" stroke-width="0.7"/>
<path d="M586.30 118.75V122.00" stroke="#ff4444" stroke-width="0.7"/>
<rect x="585.30" y="114.05" width="2.00" height="4.40" fill="#fff6f6" stroke="#ff4444" stroke-width="0.7"/>
<path d="M590.20 113.25V143.75" stroke="#222" stroke-width="0.7"/>
<rect x="588.90" y="113.25" width="2.60" height="30.25" fill="#000"/>
<path d="M594.10 144.50V181.25" stroke="#222" stroke-width="0.7"/>
<rect x="592.80" y="144.50" width="2.60" height="36.75" fill="#000"/>
<path d="M598.00 182.50V209.50" stroke="#222" stroke-width="0.7"/>
<rect x="596.70" y="182.50" width="2.60" height="22.50" fill="#000"/>
<path d="M601.90 202.50V242.50" stroke="#222" stroke-width="0.7"/>
<rect x="600.60" y="207.00" width="2.60" height="35.50" fill="#000"/>
<path d="M605.80 228.00V303.75" stroke="#222" stroke-width="0.7"/>
<rect x="604.50" y="242.00" width="2.60" height="55.50" fill="#000"/>
<path d="M609.70 267.50V322.00" stroke="#222" stroke-width="0.7"/>
<rect x="608.40" y="296.25" width="2.60" height="15.00" fill="#000"/>
<path d="M613.60 310.50V340.50" stroke="#222" stroke-width="0.7"/>
<rect x="612.30" y="313.75" width="2.60" height="7.50" fill="#000"/>
<path d="M617.50 308.75V353.50" stroke="#222" stroke-width="0.7"/>
<rect x="616.20" y="318.00" width="2.60" height="21.25" fill="#000"/>
<path d="M621.40 325.00V330.50" stroke="#ff4444" stroke-width="0.7"/>
<path d="M621.40 341.50V349.75" stroke="#ff4444" stroke-width="0.7"/>
<rect x="620.40" y="330.80" width="2.00" height="10.40" fill="#fff6f6" stroke="#ff4444" stroke-width="0.7"/>
<path d="M625.30 332.50V336.00" stroke="#ff4444" stroke-width="0.7"/>
<rect x="624.30" y="271.55" width="2.00" height="60.65" fill="#fff6f6" stroke="#ff4444" stroke-width="0.7"/>
<path d="M629.20 270.00V310.00" stroke="#222" stroke-width="0.7"/>
<rect x="627.90" y="270.00" width="2.60" height="33.25" fill="#000"/>
<path d="M633.10 297.50V339.75" stroke="#222" stroke-width="0.7"/>
<rect x="631.80" y="303.25" width="2.60" height="33.25" fill="#000"/>
<path d="M637.00 336.00V362.25" stroke="#222" stroke-width="0.7"/>
<rect x="635.70" y="340.50" width="2.60" height="3.00" fill="#000"/>
<path d="M640.90 344.75V356.00" stroke="#ff4444" stroke-width="0.7"/>
<rect x="639.90" y="335.30" width="2.00" height="9.15" fill="#fff6f6" stroke="#ff4444" stroke-width="0.7"/>
<path d="M644.80 315.00V320.00" stroke="#ff4444" stroke-width="0.7"/>
<path d="M644.80 338.50V343.00" stroke="#ff4444" stroke-width="0.7"/>
<rect x="643.80" y="320.30" width="2.00" height="17.90" fill="#fff6f6" stroke="#ff4444" stroke-width="0.7"/>
<path d="M648.70 322.00V333.75" stroke="#222" stroke-width="0.7"/>
<rect x="647.40" y="322.00" width="2.60" height="1.75" fill="#000"/>
<path d="M652.60 310.50V314.50" stroke="#ff4444" stroke-width="0.7"/>
<path d="M652.60 322.00V330.00" stroke="#ff4444" stroke-width="0.7"/>
<rect x="651.60" y="314.80" width="2.00" height="6.90" fill="#fff6f6" stroke="#ff4444" stroke-width="0.7"/>
<path d="M656.50 314.50V337.50" stroke="#222" stroke-width="0.7"/>
<rect x="655.20" y="314.50" width="2.60" height="17.00" fill="#000"/>
<path d="M660.40 321.25V328.75" stroke="#ff4444" stroke-width="0.7"/>
<path d="M660.40 333.25V336.25" stroke="#ff4444" stroke-width="0.7"/>
<rect x="659.40" y="329.05" width="2.00" height="3.90" fill="#fff6f6" stroke="#ff4444" stroke-width="0.7"/>
<path d="M664.30 328.00V367.25" stroke="#222" stroke-width="0.7"/>
<rect x="663.00" y="328.00" width="2.60" height="30.00" fill="#000"/>
<path d="M668.20 351.00V364.75" stroke="#222" stroke-width="0.7"/>
<rect x="666.90" y="358.00" width="2.60" height="1.00" fill="#000"/>
<path d="M670.80 363.50h2.6" stroke="#111" stroke-width="0.8"/>
<path d="M676.00 328.50V384.75" stroke="#222" stroke-width="0.7"/>
<rect x="674.70" y="354.75" width="2.60" height="21.25" fill="#000"/>
<path d="M679.90 329.75V337.25" stroke="#ff4444" stroke-width="0.7"/>
<path d="M679.90 374.75V388.50" stroke="#ff4444" stroke-width="0.7"/>
<rect x="678.90" y="337.55" width="2.00" height="36.90" fill="#fff6f6" stroke="#ff4444" stroke-width="0.7"/>
<path d="M683.80 313.75V324.50" stroke="#ff4444" stroke-width="0.7"/>
<path d="M683.80 336.25V344.75" stroke="#ff4444" stroke-width="0.7"/>
<rect x="682.80" y="324.80" width="2.00" height="11.15" fill="#fff6f6" stroke="#ff4444" stroke-width="0.7"/>
<path d="M687.70 316.25V338.50" stroke="#222" stroke-width="0.7"/>
<rect x="686.40" y="323.25" width="2.60" height="11.75" fill="#000"/>
<path d="M691.60 296.25V319.50" stroke="#ff4444" stroke-width="0.7"/>
<rect x="690.60" y="319.80" width="2.00" height="14.90" fill="#fff6f6" stroke="#ff4444" stroke-width="0.7"/>
<path d="M695.50 310.00V314.50" stroke="#ff4444" stroke-width="0.7"/>
<path d="M695.50 318.00V323.00" stroke="#ff4444" stroke-width="0.7"/>
<rect x="694.50" y="314.80" width="2.00" height="2.90" fill="#fff6f6" stroke="#ff4444" stroke-width="0.7"/>
<rect x="698.40" y="280.30" width="2.00" height="34.40" fill="#fff6f6" stroke="#ff4444" stroke-width="0.7"/>
<path d="M703.30 280.00V310.50" stroke="#222" stroke-width="0.7"/>
<rect x="702.00" y="280.00" width="2.60" height="8.75" fill="#000"/>
<path d="M707.20 281.25V304.50" stroke="#222" stroke-width="0.7"/>
<rect x="705.90" y="288.75" width="2.60" height="13.75" fill="#000"/>
<path d="M711.10 297.50V325.00" stroke="#222" stroke-width="0.7"/>
<rect x="709.80" y="303.25" width="2.60" height="21.75" fill="#000"/>
<path d="M715.00 316.25V333.50" stroke="#222" stroke-width="0.7"/>
<rect x="713.70" y="323.25" width="2.60" height="7.50" fill="#000"/>
<path d="M718.90 316.25V318.75" stroke="#ff4444" stroke-width="0.7"/>
<path d="M718.90 328.75V330.00" stroke="#ff4444" stroke-width="0.7"/>
<rect x="717.90" y="319.05" width="2.00" height="9.40" fill="#fff6f6" stroke="#ff4444" stroke-width="0.7"/>
<path d="M722.80 317.50V331.25" stroke="#222" stroke-width="0.7"/>
<rect x="721.50" y="318.75" width="2.60" height="12.00" fill="#000"/>
<path d="M726.70 319.50V321.25" stroke="#ff4444" stroke-width="0.7"/>
<path d="M726.70 328.75V330.75" stroke="#ff4444" stroke-width="0.7"/>
<rect x="725.70" y="321.55" width="2.00" height="6.90" fill="#fff6f6" stroke="#ff4444" stroke-width="0.7"/>
<path d="M730.60 317.50V318.75" stroke="#ff4444" stroke-width="0.7"/>
<path d="M730.60 323.75V327.50" stroke="#ff4444" stroke-width="0.7"/>
<rect x="729.60" y="319.05" width="2.00" height="4.40" fill="#fff6f6" stroke="#ff4444" stroke-width="0.7"/>
<path d="M734.50 298.00V316.25" stroke="#ff4444" stroke-width="0.7"/>
<path d="M734.50 318.75V325.00" stroke="#ff4444" stroke-width="0.7"/>
<rect x="733.50" y="316.55" width="2.00" height="1.90" fill="#fff6f6" stroke="#ff4444" stroke-width="0.7"/>
<path d="M738.40 306.25V338.50" stroke="#222" stroke-width="0.7"/>
<rect x="737.10" y="316.25" width="2.60" height="18.75" fill="#000"/>
<path d="M742.30 331.25V346.00" stroke="#222" stroke-width="0.7"/>
<rect x="741.00" y="333.00" width="2.60" height="5.75" fill="#000"/>
<path d="M746.20 329.00V329.50" stroke="#ff4444" stroke-width="0.7"/>
<path d="M746.20 341.50V348.50" stroke="#ff4444" stroke-width="0.7"/>
<rect x="745.20" y="329.80" width="2.00" height="11.40" fill="#fff6f6" stroke="#ff4444" stroke-width="0.7"/>
<path d="M750.10 326.25V349.75" stroke="#222" stroke-width="0.7"/>
<rect x="748.80" y="328.75" width="2.60" height="16.75" fill="#000"/>
<path d="M754.00 345.50V358.00" stroke="#ff4444" stroke-width="0.7"/>
<rect x="753.00" y="329.05" width="2.00" height="16.15" fill="#fff6f6" stroke="#ff4444" stroke-width="0.7"/>
<path d="M757.90 317.50V323.25" stroke="#ff4444" stroke-width="0.7"/>
<path d="M757.90 328.75V331.50" stroke="#ff4444" stroke-width="0.7"/>
<rect x="756.90" y="323.55" width="2.00" height="4.90" fill="#fff6f6" stroke="#ff4444" stroke-width="0.7"/>
<path d="M761.80 318.00V326.25" stroke="#222" stroke-width="0.7"/>
<rect x="760.50" y="323.00" width="2.60" height="1.50" fill="#000"/>
<path d="M765.70 321.25V337.50" stroke="#222" stroke-width="0.7"/>
<rect x="764.40" y="323.75" width="2.60" height="5.00" fill="#000"/>
<path d="M769.60 323.75V337.50" stroke="#222" stroke-width="0.7"/>
<rect x="768.30" y="328.50" width="2.60" height="2.25" fill="#000"/>
<path d="M773.50 321.50V328.50" stroke="#ff4444" stroke-width="0.7"/>
<path d="M773.50 330.50V335.75" stroke="#ff4444" stroke-width="0.7"/>
<rect x="772.50" y="328.80" width="2.00" height="1.40" fill="#fff6f6" stroke="#ff4444" stroke-width="0.7"/>
<path d="M777.40 311.00V334.00" stroke="#222" stroke-width="0.7"/>
<rect x="776.10" y="328.00" width="2.60" height="1.50" fill="#000"/>
<path d="M781.30 319.00V335.00" stroke="#222" stroke-width="0.7"/>
<rect x="780.00" y="327.50" width="2.60" height="1.25" fill="#000"/>
<path d="M785.20 317.50V317.50M783.90 317.50h2.6" stroke="#ff4444" stroke-width="0.7" fill="none"/>
<path d="M789.10 341.50V344.75" stroke="#ff4444" stroke-width="0.7"/>
<path d="M789.10 370.25V376.00" stroke="#ff4444" stroke-width="0.7"/>
<rect x="788.10" y="345.05" width="2.00" height="24.90" fill="#fff6f6" stroke="#ff4444" stroke-width="0.7"/>
<path d="M793.00 341.75V344.50" stroke="#ff4444" stroke-width="0.7"/>
<path d="M793.00 346.00V361.00" stroke="#ff4444" stroke-width="0.7"/>
<rect x="792.00" y="344.80" width="2.00" height="0.90" fill="#fff6f6" stroke="#ff4444" stroke-width="0.7"/>
<path d="M796.90 337.50V340.50" stroke="#ff4444" stroke-width="0.7"/>
<path d="M796.90 346.25V352.50" stroke="#ff4444" stroke-width="0.7"/>
<rect x="795.90" y="340.80" width="2.00" height="5.15" fill="#fff6f6" stroke="#ff4444" stroke-width="0.7"/>
<path d="M800.80 314.50V315.75" stroke="#ff4444" stroke-width="0.7"/>
<rect x="799.80" y="316.05" width="2.00" height="24.90" fill="#fff6f6" stroke="#ff4444" stroke-width="0.7"/>
<path d="M804.70 313.50V321.25" stroke="#222" stroke-width="0.7"/>
<rect x="803.40" y="314.50" width="2.60" height="6.75" fill="#000"/>
<path d="M808.60 318.75V346.25" stroke="#222" stroke-width="0.7"/>
<rect x="807.30" y="320.25" width="2.60" height="21.25" fill="#000"/>
<path d="M812.50 337.75V369.25" stroke="#222" stroke-width="0.7"/>
<rect x="811.20" y="341.50" width="2.60" height="27.75" fill="#000"/>
<path d="M816.40 358.75V373.75" stroke="#222" stroke-width="0.7"/>
<rect x="815.10" y="368.75" width="2.60" height="3.75" fill="#000"/>
<path d="M820.30 371.00V417.50" stroke="#222" stroke-width="0.7"/>
<rect x="819.00" y="371.00" width="2.60" height="37.50" fill="#000"/>
<path d="M824.20 408.25V424.50" stroke="#222" stroke-width="0.7"/>
<rect x="822.90" y="408.25" width="2.60" height="14.25" fill="#000"/>
<path d="M828.10 387.00V397.00" stroke="#ff4444" stroke-width="0.7"/>
<rect x="827.10" y="397.30" width="2.00" height="23.65" fill="#fff6f6" stroke="#ff4444" stroke-width="0.7"/>
<rect x="831.00" y="375.80" width="2.00" height="19.40" fill="#fff6f6" stroke="#ff4444" stroke-width="0.7"/>
<path d="M835.90 360.00V361.25" stroke="#ff4444" stroke-width="0.7"/>
<path d="M835.90 373.75V381.25" stroke="#ff4444" stroke-width="0.7"/>
<rect x="834.90" y="361.55" width="2.00" height="11.90" fill="#fff6f6" stroke="#ff4444" stroke-width="0.7"/>
<path d="M839.80 358.00V372.50" stroke="#222" stroke-width="0.7"/>
<rect x="838.50" y="358.00" width="2.60" height="14.50" fill="#000"/>
<path d="M843.70 365.00V378.00" stroke="#222" stroke-width="0.7"/>
<rect x="842.40" y="367.50" width="2.60" height="5.50" fill="#000"/>
<path d="M847.60 367.50V388.75" stroke="#222" stroke-width="0.7"/>
<rect x="846.30" y="368.75" width="2.60" height="11.25" fill="#000"/>
<path d="M851.50 373.75V401.25" stroke="#222" stroke-width="0.7"/>
<rect x="850.20" y="378.00" width="2.60" height="10.00" fill="#000"/>
<path d="M855.40 385.50V410.50" stroke="#222" stroke-width="0.7"/>
<rect x="854.10" y="388.00" width="2.60" height="19.00" fill="#000"/>
<path d="M859.30 347.50V348.75" stroke="#ff4444" stroke-width="0.7"/>
<rect x="858.30" y="349.05" width="2.00" height="56.15" fill="#fff6f6" stroke="#ff4444" stroke-width="0.7"/>
<path d="M863.20 331.00V351.25" stroke="#222" stroke-width="0.7"/>
<rect x="861.90" y="346.25" width="2.60" height="2.50" fill="#000"/>
<path d="M867.10 336.25V337.75" stroke="#ff4444" stroke-width="0.7"/>
<path d="M867.10 345.25V356.25" stroke="#ff4444" stroke-width="0.7"/>
<rect x="866.10" y="338.05" width="2.00" height="6.90" fill="#fff6f6" stroke="#ff4444" stroke-width="0.7"/>
<path d="M871.00 321.25V340.00" stroke="#222" stroke-width="0.7"/>
<rect x="869.70" y="336.25" width="2.60" height="3.00" fill="#000"/>
<path d="M874.90 320.50V326.25" stroke="#ff4444" stroke-width="0.7"/>
<path d="M874.90 336.25V337.50" stroke="#ff4444" stroke-width="0.7"/>
<rect x="873.90" y="326.55" width="2.00" height="9.40" fill="#fff6f6" stroke="#ff4444" stroke-width="0.7"/>
<path d="M878.80 321.25V322.50" stroke="#ff4444" stroke-width="0.7"/>
<path d="M878.80 324.50V326.25" stroke="#ff4444" stroke-width="0.7"/>
<rect x="877.80" y="322.80" width="2.00" height="1.40" fill="#fff6f6" stroke="#ff4444" stroke-width="0.7"/>
<path d="M882.70 323.75V334.50" stroke="#222" stroke-width="0.7"/>
<rect x="881.40" y="324.50" width="2.60" height="6.75" fill="#000"/>
<path d="M886.60 328.75V337.50" stroke="#222" stroke-width="0.7"/>
<rect x="885.30" y="332.00" width="2.60" height="1.00" fill="#000"/>
<path d="M890.50 320.50V349.75" stroke="#222" stroke-width="0.7"/>
<rect x="889.20" y="333.75" width="2.60" height="10.00" fill="#000"/>
<path d="M894.40 318.75V338.25" stroke="#ff4444" stroke-width="0.7"/>
<path d="M894.40 343.75V358.00" stroke="#ff4444" stroke-width="0.7"/>
<rect x="893.40" y="338.55" width="2.00" height="4.90" fill="#fff6f6" stroke="#ff4444" stroke-width="0.7"/>
<path d="M898.30 327.50V366.25" stroke="#222" stroke-width="0.7"/>
<rect x="897.00" y="336.25" width="2.60" height="26.25" fill="#000"/>
<path d="M902.20 342.50V381.25" stroke="#222" stroke-width="0.7"/>
<rect x="900.90" y="362.00" width="2.60" height="9.25" fill="#000"/>
<path d="M906.10 362.50V401.25" stroke="#222" stroke-width="0.7"/>
<rect x="904.80" y="372.00" width="2.60" height="11.75" fill="#000"/>
<path d="M910.00 371.25V392.50" stroke="#222" stroke-width="0.7"/>
<rect x="908.70" y="383.75" width="2.60" height="6.25" fill="#000"/>
<path d="M913.90 389.50V410.00" stroke="#ff4444" stroke-width="0.7"/>
<rect x="912.90" y="379.80" width="2.00" height="9.40" fill="#fff6f6" stroke="#ff4444" stroke-width="0.7"/>
<path d="M917.80 380.00V393.75" stroke="#ff4444" stroke-width="0.7"/>
<rect x="916.80" y="359.80" width="2.00" height="19.90" fill="#fff6f6" stroke="#ff4444" stroke-width="0.7"/>
<path d="M921.70 361.25V366.25" stroke="#ff4444" stroke-width="0.7"/>
<rect x="920.70" y="347.30" width="2.00" height="13.65" fill="#fff6f6" stroke="#ff4444" stroke-width="0.7"/>
<path d="M925.60 349.50V353.00" stroke="#ff4444" stroke-width="0.7"/>
<rect x="924.60" y="317.30" width="2.00" height="31.90" fill="#fff6f6" stroke="#ff4444" stroke-width="0.7"/>
<path d="M929.50 307.50V328.75" stroke="#222" stroke-width="0.7"/>
<rect x="928.20" y="315.00" width="2.60" height="2.50" fill="#000"/>
<path d="M933.40 308.75V314.00" stroke="#ff4444" stroke-width="0.7"/>
<path d="M933.40 316.90V326.25" stroke="#ff4444" stroke-width="0.7"/>
<rect x="932.40" y="314.30" width="2.00" height="2.30" fill="#fff6f6" stroke="#ff4444" stroke-width="0.7"/>
<path d="M937.30 308.75V320.60M936.00 311.95h2.6" stroke="#ff4444" stroke-width="0.7" fill="none"/>
<path d="M941.20 313.25V333.75" stroke="#222" stroke-width="0.7"/>
<rect x="939.90" y="313.25" width="2.60" height="18.00" fill="#000"/>
<path d="M945.10 325.00V356.25" stroke="#222" stroke-width="0.7"/>
<rect x="943.80" y="327.00" width="2.60" height="29.25" fill="#000"/>
<path d="M949.00 357.50V363.75" stroke="#ff4444" stroke-width="0.7"/>
<rect x="948.00" y="346.55" width="2.00" height="10.65" fill="#fff6f6" stroke="#ff4444" stroke-width="0.7"/>
<rect x="951.90" y="317.30" width="2.00" height="31.15" fill="#fff6f6" stroke="#ff4444" stroke-width="0.7"/>
<path d="M956.80 279.50V301.25" stroke="#ff4444" stroke-width="0.7"/>
<path d="M956.80 316.25V323.75" stroke="#ff4444" stroke-width="0.7"/>
<rect x="955.80" y="301.55" width="2.00" height="14.40" fill="#fff6f6" stroke="#ff4444" stroke-width="0.7"/>
<path d="M960.70 288.75V296.25" stroke="#ff4444" stroke-width="0.7"/>
<path d="M960.70 302.50V307.00" stroke="#ff4444" stroke-width="0.7"/>
<rect x="959.70" y="296.55" width="2.00" height="5.65" fill="#fff6f6" stroke="#ff4444" stroke-width="0.7"/>
<path d="M964.60 275.00V276.25" stroke="#ff4444" stroke-width="0.7"/>
<rect x="963.60" y="276.55" width="2.00" height="18.15" fill="#fff6f6" stroke="#ff4444" stroke-width="0.7"/>
<path d="M968.50 276.25V297.00" stroke="#222" stroke-width="0.7"/>
<rect x="967.20" y="277.00" width="2.60" height="20.00" fill="#000"/>
<path d="M972.40 297.00V312.00" stroke="#222" stroke-width="0.7"/>
<rect x="971.10" y="297.00" width="2.60" height="10.00" fill="#000"/>
<rect x="975.30" y="299.80" width="2.00" height="7.40" fill="#fff6f6" stroke="#ff4444" stroke-width="0.7"/>
<path d="M980.20 293.00V306.25" stroke="#222" stroke-width="0.7"/>
<rect x="978.90" y="299.50" width="2.60" height="5.50" fill="#000"/>
<path d="M984.10 295.50V303.00" stroke="#ff4444" stroke-width="0.7"/>
<path d="M984.10 306.25V313.75" stroke="#ff4444" stroke-width="0.7"/>
<rect x="983.10" y="303.30" width="2.00" height="2.65" fill="#fff6f6" stroke="#ff4444" stroke-width="0.7"/>
<path d="M988.00 293.00V312.00" stroke="#222" stroke-width="0.7"/>
<rect x="986.70" y="303.00" width="2.60" height="9.00" fill="#000"/>
<path d="M990.60 313.75h2.6" stroke="#111" stroke-width="0.8"/>
<text x="78.82" y="256.35" fill="#ff3838" stroke="#ff3838" stroke-width="0.15" font-family="'Liberation Mono',monospace" font-size="7.6" textLength="16.55" lengthAdjust="spacingAndGlyphs">11/19</text>
<text x="78.82" y="263.10" fill="#ff3838" stroke="#ff3838" stroke-width="0.15" font-family="'Liberation Mono',monospace" font-size="7.6" textLength="16.55" lengthAdjust="spacingAndGlyphs">49150</text>
<text x="35.92" y="396.35" fill="#ff3838" stroke="#ff3838" stroke-width="0.15" font-family="'Liberation Mono',monospace" font-size="7.6" textLength="16.55" lengthAdjust="spacingAndGlyphs">48270</text>
<text x="35.92" y="403.35" fill="#ff3838" stroke="#ff3838" stroke-width="0.15" font-family="'Liberation Mono',monospace" font-size="7.6" textLength="16.55" lengthAdjust="spacingAndGlyphs">11/19</text>
<text x="121.72" y="371.85" fill="#ff3838" stroke="#ff3838" stroke-width="0.15" font-family="'Liberation Mono',monospace" font-size="7.6" textLength="16.55" lengthAdjust="spacingAndGlyphs">48440</text>
<text x="121.72" y="378.85" fill="#ff3838" stroke="#ff3838" stroke-width="0.15" font-family="'Liberation Mono',monospace" font-size="7.6" textLength="16.55" lengthAdjust="spacingAndGlyphs">11/19</text>
<text x="223.12" y="295.60" fill="#ff3838" stroke="#ff3838" stroke-width="0.15" font-family="'Liberation Mono',monospace" font-size="7.6" textLength="16.55" lengthAdjust="spacingAndGlyphs">48970</text>
<text x="223.12" y="302.10" fill="#ff3838" stroke="#ff3838" stroke-width="0.15" font-family="'Liberation Mono',monospace" font-size="7.6" textLength="16.55" lengthAdjust="spacingAndGlyphs">11/19</text>
<text x="254.33" y="203.10" fill="#ff3838" stroke="#ff3838" stroke-width="0.15" font-family="'Liberation Mono',monospace" font-size="7.6" textLength="16.55" lengthAdjust="spacingAndGlyphs">11/20</text>
<text x="254.33" y="210.10" fill="#ff3838" stroke="#ff3838" stroke-width="0.15" font-family="'Liberation Mono',monospace" font-size="7.6" textLength="16.55" lengthAdjust="spacingAndGlyphs">49520</text>
<text x="289.43" y="298.60" fill="#ff3838" stroke="#ff3838" stroke-width="0.15" font-family="'Liberation Mono',monospace" font-size="7.6" textLength="16.55" lengthAdjust="spacingAndGlyphs">48950</text>
<text x="289.43" y="305.60" fill="#ff3838" stroke="#ff3838" stroke-width="0.15" font-family="'Liberation Mono',monospace" font-size="7.6" textLength="16.55" lengthAdjust="spacingAndGlyphs">11/20</text>
<text x="355.73" y="44.60" fill="#ff3838" stroke="#ff3838" stroke-width="0.15" font-family="'Liberation Mono',monospace" font-size="7.6" textLength="16.55" lengthAdjust="spacingAndGlyphs">11/20</text>
<text x="355.73" y="51.35" fill="#ff3838" stroke="#ff3838" stroke-width="0.15" font-family="'Liberation Mono',monospace" font-size="7.6" textLength="16.55" lengthAdjust="spacingAndGlyphs">50620</text>
<text x="410.33" y="193.85" fill="#ff3838" stroke="#ff3838" stroke-width="0.15" font-family="'Liberation Mono',monospace" font-size="7.6" textLength="16.55" lengthAdjust="spacingAndGlyphs">49680</text>
<text x="410.33" y="200.60" fill="#ff3838" stroke="#ff3838" stroke-width="0.15" font-family="'Liberation Mono',monospace" font-size="7.6" textLength="16.55" lengthAdjust="spacingAndGlyphs">11/20</text>
<text x="488.33" y="206.60" fill="#ff3838" stroke="#ff3838" stroke-width="0.15" font-family="'Liberation Mono',monospace" font-size="7.6" textLength="16.55" lengthAdjust="spacingAndGlyphs">49590</text>
<text x="488.33" y="213.60" fill="#ff3838" stroke="#ff3838" stroke-width="0.15" font-family="'Liberation Mono',monospace" font-size="7.6" textLength="16.55" lengthAdjust="spacingAndGlyphs">11/20</text>
<text x="578.02" y="100.60" fill="#ff3838" stroke="#ff3838" stroke-width="0.15" font-family="'Liberation Mono',monospace" font-size="7.6" textLength="16.55" lengthAdjust="spacingAndGlyphs">11/21</text>
<text x="578.02" y="107.10" fill="#ff3838" stroke="#ff3838" stroke-width="0.15" font-family="'Liberation Mono',monospace" font-size="7.6" textLength="16.55" lengthAdjust="spacingAndGlyphs">50230</text>
<text x="695.02" y="271.35" fill="#ff3838" stroke="#ff3838" stroke-width="0.15" font-family="'Liberation Mono',monospace" font-size="7.6" textLength="16.55" lengthAdjust="spacingAndGlyphs">11/21</text>
<text x="695.02" y="278.10" fill="#ff3838" stroke="#ff3838" stroke-width="0.15" font-family="'Liberation Mono',monospace" font-size="7.6" textLength="16.55" lengthAdjust="spacingAndGlyphs">49050</text>
<text x="671.62" y="395.60" fill="#ff3838" stroke="#ff3838" stroke-width="0.15" font-family="'Liberation Mono',monospace" font-size="7.6" textLength="16.55" lengthAdjust="spacingAndGlyphs">48280</text>
<text x="671.62" y="402.35" fill="#ff3838" stroke="#ff3838" stroke-width="0.15" font-family="'Liberation Mono',monospace" font-size="7.6" textLength="16.55" lengthAdjust="spacingAndGlyphs">11/21</text>
<text x="769.12" y="303.85" fill="#ff3838" stroke="#ff3838" stroke-width="0.15" font-family="'Liberation Mono',monospace" font-size="7.6" textLength="16.55" lengthAdjust="spacingAndGlyphs">11/21</text>
<text x="769.12" y="310.60" fill="#ff3838" stroke="#ff3838" stroke-width="0.15" font-family="'Liberation Mono',monospace" font-size="7.6" textLength="16.55" lengthAdjust="spacingAndGlyphs">48820</text>
<text x="815.92" y="430.60" fill="#ff3838" stroke="#ff3838" stroke-width="0.15" font-family="'Liberation Mono',monospace" font-size="7.6" textLength="16.55" lengthAdjust="spacingAndGlyphs">48030</text>
<text x="815.92" y="437.60" fill="#ff3838" stroke="#ff3838" stroke-width="0.15" font-family="'Liberation Mono',monospace" font-size="7.6" textLength="16.55" lengthAdjust="spacingAndGlyphs">11/21</text>
<text x="905.62" y="415.10" fill="#ff3838" stroke="#ff3838" stroke-width="0.15" font-family="'Liberation Mono',monospace" font-size="7.6" textLength="16.55" lengthAdjust="spacingAndGlyphs">48140</text>
<text x="905.62" y="422.10" fill="#ff3838" stroke="#ff3838" stroke-width="0.15" font-family="'Liberation Mono',monospace" font-size="7.6" textLength="16.55" lengthAdjust="spacingAndGlyphs">11/22</text>
<rect x="996.0" y="13" width="30" height="443" fill="#fff"/>
<g stroke="#777" stroke-width="0.6">
<path d="M995.5 429.50h2.6"/>
<path d="M995.5 400.75h2.6"/>
<path d="M995.5 372.00h2.6"/>
<path d="M995.5 343.25h2.6"/>
<path d="M995.5 314.50h2.6"/>
<path d="M995.5 285.75h2.6"/>
<path d="M995.5 257.00h2.6"/>
<path d="M995.5 228.25h2.6"/>
<path d="M995.5 199.50h2.6"/>
<path d="M995.5 170.75h2.6"/>
<path d="M995.5 142.00h2.6"/>
<path d="M995.5 113.25h2.6"/>
<path d="M995.5 84.50h2.6"/>
<path d="M995.5 55.75h2.6"/>
<path d="M995.5 27.00h2.6"/>
</g>
<text x="999.80" y="16.00" fill="#333" stroke="#333" stroke-width="0.15" font-family="'Liberation Mono',monospace" font-size="7.6" textLength="26.48" lengthAdjust="spacingAndGlyphs">50,869.0</text>
<path d="M995.5 16.6H1024" stroke="#999" stroke-width="0.7"/>
<text x="999.80" y="432.60" fill="#222" stroke="#222" stroke-width="0.15" font-family="'Liberation Mono',monospace" font-size="7.6" textLength="26.48" lengthAdjust="spacingAndGlyphs">48,000.0</text>
<text x="999.80" y="403.85" fill="#222" stroke="#222" stroke-width="0.15" font-family="'Liberation Mono',monospace" font-size="7.6" textLength="26.48" lengthAdjust="spacingAndGlyphs">48,200.0</text>
<text x="999.80" y="375.10" fill="#222" stroke="#222" stroke-width="0.15" font-family="'Liberation Mono',monospace" font-size="7.6" textLength="26.48" lengthAdjust="spacingAndGlyphs">48,400.0</text>
<text x="999.80" y="346.35" fill="#222" stroke="#222" stroke-width="0.15" font-family="'Liberation Mono',monospace" font-size="7.6" textLength="26.48" lengthAdjust="spacingAndGlyphs">48,600.0</text>
<text x="999.80" y="317.60" fill="#222" stroke="#222" stroke-width="0.15" font-family="'Liberation Mono',monospace" font-size="7.6" textLength="26.48" lengthAdjust="spacingAndGlyphs">48,800.0</text>
<text x="999.80" y="288.85" fill="#222" stroke="#222" stroke-width="0.15" font-family="'Liberation Mono',monospace" font-size="7.6" textLength="26.48" lengthAdjust="spacingAndGlyphs">49,000.0</text>
<text x="999.80" y="260.10" fill="#222" stroke="#222" stroke-width="0.15" font-family="'Liberation Mono',monospace" font-size="7.6" textLength="26.48" lengthAdjust="spacingAndGlyphs">49,200.0</text>
<text x="999.80" y="231.35" fill="#222" stroke="#222" stroke-width="0.15" font-family="'Liberation Mono',monospace" font-size="7.6" textLength="26.48" lengthAdjust="spacingAndGlyphs">49,400.0</text>
<text x="999.80" y="202.60" fill="#222" stroke="#222" stroke-width="0.15" font-family="'Liberation Mono',monospace" font-size="7.6" textLength="26.48" lengthAdjust="spacingAndGlyphs">49,600.0</text>
<text x="999.80" y="173.85" fill="#222" stroke="#222" stroke-width="0.15" font-family="'Liberation Mono',monospace" font-size="7.6" textLength="26.48" lengthAdjust="spacingAndGlyphs">49,800.0</text>
<text x="999.80" y="145.10" fill="#222" stroke="#222" stroke-width="0.15" font-family="'Liberation Mono',monospace" font-size="7.6" textLength="26.48" lengthAdjust="spacingAndGlyphs">50,000.0</text>
<text x="999.80" y="116.35" fill="#222" stroke="#222" stroke-width="0.15" font-family="'Liberation Mono',monospace" font-size="7.6" textLength="26.48" lengthAdjust="spacingAndGlyphs">50,200.0</text>
<text x="999.80" y="87.60" fill="#222" stroke="#222" stroke-width="0.15" font-family="'Liberation Mono',monospace" font-size="7.6" textLength="26.48" lengthAdjust="spacingAndGlyphs">50,400.0</text>
<text x="999.80" y="58.85" fill="#222" stroke="#222" stroke-width="0.15" font-family="'Liberation Mono',monospace" font-size="7.6" textLength="26.48" lengthAdjust="spacingAndGlyphs">50,600.0</text>
<text x="999.80" y="30.10" fill="#222" stroke="#222" stroke-width="0.15" font-family="'Liberation Mono',monospace" font-size="7.6" textLength="26.48" lengthAdjust="spacingAndGlyphs">50,800.0</text>
<rect x="995.9" y="259.40" width="29" height="6.3" fill="#8b1010"/>
<text x="999.80" y="265.20" fill="#d8f4f4" stroke="#d8f4f4" stroke-width="0.15" font-family="'Liberation Mono',monospace" font-size="7.6" textLength="26.48" lengthAdjust="spacingAndGlyphs">49,167.7</text>
<rect x="995.9" y="311.20" width="29" height="6.3" fill="#000"/>
<text x="999.80" y="317.00" fill="#fff" stroke="#fff" stroke-width="0.15" font-family="'Liberation Mono',monospace" font-size="7.6" textLength="19.86" lengthAdjust="spacingAndGlyphs">48,810</text>
<rect x="995.9" y="326.30" width="29" height="6.3" fill="#44c868"/>
<text x="999.80" y="332.10" fill="#a868a8" stroke="#a868a8" stroke-width="0.15" font-family="'Liberation Mono',monospace" font-size="7.6" textLength="26.48" lengthAdjust="spacingAndGlyphs">48,703.6</text>
<rect x="995.9" y="337.30" width="29" height="6.3" fill="#f06010"/>
<text x="999.80" y="343.10" fill="#78b0e4" stroke="#78b0e4" stroke-width="0.15" font-family="'Liberation Mono',monospace" font-size="7.6" textLength="26.48" lengthAdjust="spacingAndGlyphs">48,625.4</text>
<rect x="0.3" y="446" width="28.7" height="6.6" fill="#fff" stroke="#555" stroke-width="0.6"/>
<text x="1.00" y="451.30" fill="#222" stroke="#222" stroke-width="0.15" font-family="'Liberation Mono',monospace" font-size="7.6" textLength="6.62" lengthAdjust="spacingAndGlyphs">19</text>
<text x="12.60" y="451.30" fill="#222" stroke="#222" stroke-width="0.15" font-family="'Liberation Mono',monospace" font-size="7.6" textLength="16.55" lengthAdjust="spacingAndGlyphs">04:15</text>
<text x="36.40" y="451.30" fill="#222" stroke="#222" stroke-width="0.15" font-family="'Liberation Mono',monospace" font-size="7.6" textLength="16.55" lengthAdjust="spacingAndGlyphs">09:00</text>
<text x="71.50" y="451.30" fill="#222" stroke="#222" stroke-width="0.15" font-family="'Liberation Mono',monospace" font-size="7.6" textLength="16.55" lengthAdjust="spacingAndGlyphs">11:15</text>
<text x="106.60" y="451.30" fill="#222" stroke="#222" stroke-width="0.15" font-family="'Liberation Mono',monospace" font-size="7.6" textLength="16.55" lengthAdjust="spacingAndGlyphs">13:30</text>
<text x="141.70" y="451.30" fill="#222" stroke="#222" stroke-width="0.15" font-family="'Liberation Mono',monospace" font-size="7.6" textLength="16.55" lengthAdjust="spacingAndGlyphs">15:45</text>
<text x="196.30" y="451.30" fill="#222" stroke="#222" stroke-width="0.15" font-family="'Liberation Mono',monospace" font-size="7.6" textLength="16.55" lengthAdjust="spacingAndGlyphs">20:15</text>
<text x="254.80" y="451.30" fill="#222" stroke="#222" stroke-width="0.15" font-family="'Liberation Mono',monospace" font-size="7.6" textLength="16.55" lengthAdjust="spacingAndGlyphs">11/20</text>
<text x="289.90" y="451.30" fill="#222" stroke="#222" stroke-width="0.15" font-family="'Liberation Mono',monospace" font-size="7.6" textLength="16.55" lengthAdjust="spacingAndGlyphs">02:15</text>
<text x="325.00" y="451.30" fill="#222" stroke="#222" stroke-width="0.15" font-family="'Liberation Mono',monospace" font-size="7.6" textLength="16.55" lengthAdjust="spacingAndGlyphs">04:30</text>
<text x="356.20" y="451.30" fill="#222" stroke="#222" stroke-width="0.15" font-family="'Liberation Mono',monospace" font-size="7.6" textLength="16.55" lengthAdjust="spacingAndGlyphs">09:00</text>
<text x="391.30" y="451.30" fill="#222" stroke="#222" stroke-width="0.15" font-family="'Liberation Mono',monospace" font-size="7.6" textLength="16.55" lengthAdjust="spacingAndGlyphs">11:15</text>
<text x="426.40" y="451.30" fill="#222" stroke="#222" stroke-width="0.15" font-family="'Liberation Mono',monospace" font-size="7.6" textLength="16.55" lengthAdjust="spacingAndGlyphs">13:30</text>
<text x="461.50" y="451.30" fill="#222" stroke="#222" stroke-width="0.15" font-family="'Liberation Mono',monospace" font-size="7.6" textLength="16.55" lengthAdjust="spacingAndGlyphs">15:45</text>
<text x="516.10" y="451.30" fill="#222" stroke="#222" stroke-width="0.15" font-family="'Liberation Mono',monospace" font-size="7.6" textLength="16.55" lengthAdjust="spacingAndGlyphs">20:15</text>
<text x="574.60" y="451.30" fill="#222" stroke="#222" stroke-width="0.15" font-family="'Liberation Mono',monospace" font-size="7.6" textLength="16.55" lengthAdjust="spacingAndGlyphs">11/21</text>
<text x="609.70" y="451.30" fill="#222" stroke="#222" stroke-width="0.15" font-family="'Liberation Mono',monospace" font-size="7.6" textLength="16.55" lengthAdjust="spacingAndGlyphs">02:15</text>
<text x="644.80" y="451.30" fill="#222" stroke="#222" stroke-width="0.15" font-family="'Liberation Mono',monospace" font-size="7.6" textLength="16.55" lengthAdjust="spacingAndGlyphs">04:30</text>
<text x="676.00" y="451.30" fill="#222" stroke="#222" stroke-width="0.15" font-family="'Liberation Mono',monospace" font-size="7.6" textLength="16.55" lengthAdjust="spacingAndGlyphs">09:00</text>
<text x="711.10" y="451.30" fill="#222" stroke="#222" stroke-width="0.15" font-family="'Liberation Mono',monospace" font-size="7.6" textLength="16.55" lengthAdjust="spacingAndGlyphs">11:15</text>
<text x="746.20" y="451.30" fill="#222" stroke="#222" stroke-width="0.15" font-family="'Liberation Mono',monospace" font-size="7.6" textLength="16.55" lengthAdjust="spacingAndGlyphs">13:30</text>
<text x="781.30" y="451.30" fill="#222" stroke="#222" stroke-width="0.15" font-family="'Liberation Mono',monospace" font-size="7.6" textLength="16.55" lengthAdjust="spacingAndGlyphs">15:45</text>
<text x="835.90" y="451.30" fill="#222" stroke="#222" stroke-width="0.15" font-family="'Liberation Mono',monospace" font-size="7.6" textLength="16.55" lengthAdjust="spacingAndGlyphs">20:15</text>
<text x="894.40" y="451.30" fill="#222" stroke="#222" stroke-width="0.15" font-family="'Liberation Mono',monospace" font-size="7.6" textLength="16.55" lengthAdjust="spacingAndGlyphs">11/22</text>
<text x="929.50" y="451.30" fill="#222" stroke="#222" stroke-width="0.15" font-family="'Liberation Mono',monospace" font-size="7.6" textLength="16.55" lengthAdjust="spacingAndGlyphs">02:15</text>
<text x="964.60" y="451.30" fill="#222" stroke="#222" stroke-width="0.15" font-family="'Liberation Mono',monospace" font-size="7.6" textLength="16.55" lengthAdjust="spacingAndGlyphs">04:30</text>
<rect x="919.1" y="34.4" width="52.5" height="15.4" fill="#1414f0"/>
<text x="921.3" y="46.3" font-family="'Liberation Sans','Noto Sans CJK JP',sans-serif" font-size="11.1" fill="#fff" stroke="#fff" stroke-width="0.25">2800円幅</text>
<text x="2.75" y="20.70" fill="#222" font-family="'Liberation Sans','Noto Sans CJK JP',sans-serif" font-size="6.7" textLength="33.10" lengthAdjust="spacingAndGlyphs">日経２２５</text><text x="39.16" y="20.70" fill="#222" font-family="'Liberation Sans','Noto Sans CJK JP',sans-serif" font-size="6.7" textLength="26.48" lengthAdjust="spacingAndGlyphs">先物期近</text><text x="68.95" y="20.70" fill="#222" font-family="'Liberation Sans','Noto Sans CJK JP',sans-serif" font-size="6.7" textLength="26.48" lengthAdjust="spacingAndGlyphs">つなぎ足</text><text x="95.43" y="20.25" fill="#222" stroke="#222" stroke-width="0.06" font-family="'Liberation Mono',monospace" font-size="7.6" textLength="3.31" lengthAdjust="spacingAndGlyphs">(</text><text x="102.05" y="20.25" fill="#222" stroke="#222" stroke-width="0.06" font-family="'Liberation Mono',monospace" font-size="7.6" textLength="6.62" lengthAdjust="spacingAndGlyphs">15</text><text x="108.67" y="20.70" fill="#222" font-family="'Liberation Sans','Noto Sans CJK JP',sans-serif" font-size="6.7" textLength="6.62" lengthAdjust="spacingAndGlyphs">分</text><text x="115.29" y="20.25" fill="#222" stroke="#222" stroke-width="0.06" font-family="'Liberation Mono',monospace" font-size="7.6" textLength="3.31" lengthAdjust="spacingAndGlyphs">,</text><text x="121.91" y="20.25" fill="#222" stroke="#222" stroke-width="0.06" font-family="'Liberation Mono',monospace" font-size="7.6" textLength="33.10" lengthAdjust="spacingAndGlyphs">2025/11/18</text><text x="158.32" y="20.25" fill="#222" stroke="#222" stroke-width="0.06" font-family="'Liberation Mono',monospace" font-size="7.6" textLength="3.31" lengthAdjust="spacingAndGlyphs">-</text><text x="164.94" y="20.25" fill="#222" stroke="#222" stroke-width="0.06" font-family="'Liberation Mono',monospace" font-size="7.6" textLength="33.10" lengthAdjust="spacingAndGlyphs">2025/11/22</text><text x="201.35" y="20.25" fill="#222" stroke="#222" stroke-width="0.06" font-family="'Liberation Mono',monospace" font-size="7.6" textLength="3.31" lengthAdjust="spacingAndGlyphs">)</text><text x="211.28" y="20.25" fill="#222" stroke="#222" stroke-width="0.06" font-family="'Liberation Mono',monospace" font-size="7.6" textLength="26.48" lengthAdjust="spacingAndGlyphs">C=48,810</text><text x="241.07" y="20.25" fill="#222" stroke="#222" stroke-width="0.06" font-family="'Liberation Mono',monospace" font-size="7.6" textLength="26.48" lengthAdjust="spacingAndGlyphs">H=48,810</text><text x="270.86" y="20.25" fill="#222" stroke="#222" stroke-width="0.06" font-family="'Liberation Mono',monospace" font-size="7.6" textLength="26.48" lengthAdjust="spacingAndGlyphs">L=48,810</text><text x="300.65" y="20.25" fill="#222" stroke="#222" stroke-width="0.06" font-family="'Liberation Mono',monospace" font-size="7.6" textLength="13.24" lengthAdjust="spacingAndGlyphs">V=24</text><text x="323.82" y="20.70" fill="#222" font-family="'Liberation Sans','Noto Sans CJK JP',sans-serif" font-size="6.7" textLength="26.48" lengthAdjust="spacingAndGlyphs">移動平均</text><text x="350.30" y="20.25" fill="#222" stroke="#222" stroke-width="0.06" font-family="'Liberation Mono',monospace" font-size="7.6" textLength="3.31" lengthAdjust="spacingAndGlyphs">3</text><text x="353.61" y="20.70" fill="#222" font-family="'Liberation Sans','Noto Sans CJK JP',sans-serif" font-size="6.7" textLength="6.62" lengthAdjust="spacingAndGlyphs">本</text><text x="360.23" y="20.25" fill="#222" stroke="#222" stroke-width="0.06" font-family="'Liberation Mono',monospace" font-size="7.6" textLength="3.31" lengthAdjust="spacingAndGlyphs">(</text><text x="366.85" y="20.25" fill="#222" stroke="#222" stroke-width="0.06" font-family="'Liberation Mono',monospace" font-size="7.6" textLength="9.93" lengthAdjust="spacingAndGlyphs">25,</text><text x="380.09" y="20.25" fill="#222" stroke="#222" stroke-width="0.06" font-family="'Liberation Mono',monospace" font-size="7.6" textLength="9.93" lengthAdjust="spacingAndGlyphs">70,</text><text x="393.33" y="20.25" fill="#222" stroke="#222" stroke-width="0.06" font-family="'Liberation Mono',monospace" font-size="7.6" textLength="9.93" lengthAdjust="spacingAndGlyphs">200</text><text x="406.57" y="20.25" fill="#222" stroke="#222" stroke-width="0.06" font-family="'Liberation Mono',monospace" font-size="7.6" textLength="3.31" lengthAdjust="spacingAndGlyphs">)</text>
<text x="416.50" y="20.70" fill="#4cc870" font-family="'Liberation Sans','Noto Sans CJK JP',sans-serif" font-size="6.7" textLength="13.24" lengthAdjust="spacingAndGlyphs">期間</text><text x="429.74" y="20.25" fill="#4cc870" stroke="#4cc870" stroke-width="0.06" font-family="'Liberation Mono',monospace" font-size="7.6" textLength="3.31" lengthAdjust="spacingAndGlyphs">1</text><text x="436.36" y="20.70" fill="#4cc870" font-family="'Liberation Sans','Noto Sans CJK JP',sans-serif" font-size="6.7" textLength="26.48" lengthAdjust="spacingAndGlyphs">移動平均</text><text x="462.84" y="20.25" fill="#4cc870" stroke="#4cc870" stroke-width="0.06" font-family="'Liberation Mono',monospace" font-size="7.6" textLength="33.10" lengthAdjust="spacingAndGlyphs">=48,703.60</text>
<text x="499.25" y="20.70" fill="#f06818" font-family="'Liberation Sans','Noto Sans CJK JP',sans-serif" font-size="6.7" textLength="13.24" lengthAdjust="spacingAndGlyphs">期間</text><text x="512.49" y="20.25" fill="#f06818" stroke="#f06818" stroke-width="0.06" font-family="'Liberation Mono',monospace" font-size="7.6" textLength="3.31" lengthAdjust="spacingAndGlyphs">2</text><text x="519.11" y="20.70" fill="#f06818" font-family="'Liberation Sans','Noto Sans CJK JP',sans-serif" font-size="6.7" textLength="26.48" lengthAdjust="spacingAndGlyphs">移動平均</text><text x="545.59" y="20.25" fill="#f06818" stroke="#f06818" stroke-width="0.06" font-family="'Liberation Mono',monospace" font-size="7.6" textLength="33.10" lengthAdjust="spacingAndGlyphs">=48,625.43</text>
<text x="582.00" y="20.70" fill="#8b1010" font-family="'Liberation Sans','Noto Sans CJK JP',sans-serif" font-size="6.7" textLength="13.24" lengthAdjust="spacingAndGlyphs">期間</text><text x="595.24" y="20.25" fill="#8b1010" stroke="#8b1010" stroke-width="0.06" font-family="'Liberation Mono',monospace" font-size="7.6" textLength="3.31" lengthAdjust="spacingAndGlyphs">3</text><text x="601.86" y="20.70" fill="#8b1010" font-family="'Liberation Sans','Noto Sans CJK JP',sans-serif" font-size="6.7" textLength="26.48" lengthAdjust="spacingAndGlyphs">移動平均</text><text x="628.34" y="20.25" fill="#8b1010" stroke="#8b1010" stroke-width="0.06" font-family="'Liberation Mono',monospace" font-size="7.6" textLength="33.10" lengthAdjust="spacingAndGlyphs">=49,167.70</text>
<text x="671.37" y="20.25" fill="#222" stroke="#222" stroke-width="0.06" font-family="'Liberation Mono',monospace" font-size="7.6" textLength="33.10" lengthAdjust="spacingAndGlyphs">SwingPoint</text><text x="707.78" y="20.25" fill="#222" stroke="#222" stroke-width="0.06" font-family="'Liberation Mono',monospace" font-size="7.6" textLength="13.24" lengthAdjust="spacingAndGlyphs">View</text>
</svg>
<svg width="1024" height="13" viewBox="0 0 1024 13" style="position:absolute;left:0;top:0">
<rect x="0" y="0" width="1024" height="12.7" fill="#121212"/>
<rect x="0.3" y="1.5" width="8.2" height="9.4" fill="#e4e4e4" stroke="#555" stroke-width="0.6"/>
<path d="M2.3 4.9h4.2l-2.1 2.8z" fill="#111"/>
<rect x="12" y="1.5" width="38.8" height="9.4" fill="#fff"/>
<text x="13.80" y="8.95" fill="#222" font-family="'Liberation Sans','Noto Sans CJK JP',sans-serif" font-size="6.7" textLength="13.24" lengthAdjust="spacingAndGlyphs">先物</text>
<rect x="41.599999999999994" y="2.1" width="8.6" height="8.2" fill="#ececec" stroke="#3a3a3a" stroke-width="0.7"/>
<path d="M43.80 5.10h4.2l-2.1 2.6z" fill="#111"/>
<rect x="51.4" y="1.5" width="53" height="9.4" fill="#fff"/>
<text x="53.20" y="8.95" fill="#222" font-family="'Liberation Sans','Noto Sans CJK JP',sans-serif" font-size="6.7" textLength="13.24" lengthAdjust="spacingAndGlyphs">日経</text><text x="66.44" y="8.50" fill="#222" stroke="#222" stroke-width="0.15" font-family="'Liberation Mono',monospace" font-size="7.6" textLength="9.93" lengthAdjust="spacingAndGlyphs">225</text>
<rect x="95.2" y="2.1" width="8.6" height="8.2" fill="#ececec" stroke="#3a3a3a" stroke-width="0.7"/>
<path d="M97.40 5.10h4.2l-2.1 2.6z" fill="#111"/>
<rect x="107" y="1.5" width="38.8" height="9.4" fill="#fff"/>
<text x="108.80" y="8.95" fill="#222" font-family="'Liberation Sans','Noto Sans CJK JP',sans-serif" font-size="6.7" textLength="26.48" lengthAdjust="spacingAndGlyphs">つなぎ足</text>
<rect x="136.60000000000002" y="2.1" width="8.6" height="8.2" fill="#ececec" stroke="#3a3a3a" stroke-width="0.7"/>
<path d="M138.80 5.10h4.2l-2.1 2.6z" fill="#111"/>
<rect x="148.6" y="1.5" width="27.2" height="9.6" fill="#5e5e5e"/>
<path d="M148.6 11.1V1.5H175.79999999999998" stroke="#a0a0a0" stroke-width="0.6" fill="none"/>
<path d="M148.6 11.1H175.79999999999998V1.5" stroke="#2e2e2e" stroke-width="0.7" fill="none"/>
<text x="162.20" y="8.5" text-anchor="middle" fill="#dcdcdc" font-family="'Liberation Sans','Noto Sans CJK JP',sans-serif" font-size="5.9" textLength="24.4" lengthAdjust="spacingAndGlyphs">ライン保存</text>
<text x="180.60" y="9.05" fill="#f0f0f0" font-family="'Liberation Sans','Noto Sans CJK JP',sans-serif" font-size="6.7" textLength="6.62" lengthAdjust="spacingAndGlyphs">足</text>
<rect x="190" y="1.5" width="21.4" height="9.4" fill="#151515" stroke="#8a8a8a" stroke-width="0.7"/>
<text x="199.89" y="8.50" fill="#777" stroke="#777" stroke-width="0.15" font-family="'Liberation Mono',monospace" font-size="7.6" textLength="3.31" lengthAdjust="spacingAndGlyphs">1</text>
<rect x="203.8" y="2.1" width="7.2" height="8.2" fill="#d0ccc4" stroke="#8a8a8a" stroke-width="0.6"/>
<path d="M204.8 9.6L210.20000000000002 2.8" stroke="#777" stroke-width="0.6"/>
<rect x="213.6" y="1.5" width="9.4" height="9.6" fill="#5e5e5e"/>
<path d="M213.6 11.1V1.5H223.0" stroke="#a0a0a0" stroke-width="0.6" fill="none"/>
<path d="M213.6 11.1H223.0V1.5" stroke="#2e2e2e" stroke-width="0.7" fill="none"/>
<text x="218.30" y="8.5" text-anchor="middle" fill="#dcdcdc" font-family="'Liberation Sans','Noto Sans CJK JP',sans-serif" font-size="5.9" textLength="5.8" lengthAdjust="spacingAndGlyphs">日</text>
<rect x="224.5" y="1.5" width="9.4" height="9.6" fill="#5e5e5e"/>
<path d="M224.5 11.1V1.5H233.9" stroke="#a0a0a0" stroke-width="0.6" fill="none"/>
<path d="M224.5 11.1H233.9V1.5" stroke="#2e2e2e" stroke-width="0.7" fill="none"/>
<text x="229.20" y="8.5" text-anchor="middle" fill="#dcdcdc" font-family="'Liberation Sans','Noto Sans CJK JP',sans-serif" font-size="5.9" textLength="5.8" lengthAdjust="spacingAndGlyphs">週</text>
<rect x="235.4" y="1.5" width="9.4" height="9.6" fill="#5e5e5e"/>
<path d="M235.4 11.1V1.5H244.8" stroke="#a0a0a0" stroke-width="0.6" fill="none"/>
<path d="M235.4 11.1H244.8V1.5" stroke="#2e2e2e" stroke-width="0.7" fill="none"/>
<text x="240.10" y="8.5" text-anchor="middle" fill="#dcdcdc" font-family="'Liberation Sans','Noto Sans CJK JP',sans-serif" font-size="5.9" textLength="5.8" lengthAdjust="spacingAndGlyphs">月</text>
<rect x="246.3" y="1.5" width="9.8" height="9.6" fill="#fffbd2"/>
<path d="M246.3 11.1V1.5H256.1" stroke="#a0a0a0" stroke-width="0.6" fill="none"/>
<path d="M246.3 11.1H256.1V1.5" stroke="#2e2e2e" stroke-width="0.7" fill="none"/>
<text x="251.20" y="8.5" text-anchor="middle" fill="#666" font-family="'Liberation Sans','Noto Sans CJK JP',sans-serif" font-size="5.9" textLength="5.8" lengthAdjust="spacingAndGlyphs">分</text>
<rect x="258.4" y="1.5" width="9.6" height="9.6" fill="#5e5e5e"/>
<path d="M258.4 11.1V1.5H268.0" stroke="#a0a0a0" stroke-width="0.6" fill="none"/>
<path d="M258.4 11.1H268.0V1.5" stroke="#2e2e2e" stroke-width="0.7" fill="none"/>
<text x="263.20" y="8.5" text-anchor="middle" fill="#dcdcdc" font-family="'Liberation Sans','Noto Sans CJK JP',sans-serif" font-size="8" textLength="4.6" lengthAdjust="spacingAndGlyphs">T</text>
<text x="272.80" y="9.05" fill="#f0f0f0" font-family="'Liberation Sans','Noto Sans CJK JP',sans-serif" font-size="6.7" textLength="6.62" lengthAdjust="spacingAndGlyphs">分</text>
<rect x="282" y="1.5" width="22.4" height="9.4" fill="#fff"/>
<text x="289.38" y="8.50" fill="#222" stroke="#222" stroke-width="0.15" font-family="'Liberation Mono',monospace" font-size="7.6" textLength="6.62" lengthAdjust="spacingAndGlyphs">15</text>
<rect x="296.8" y="2.1" width="7.2" height="8.2" fill="#d0ccc4" stroke="#8a8a8a" stroke-width="0.6"/>
<path d="M297.8 9.6L303.2 2.8" stroke="#777" stroke-width="0.6"/>
<text x="306.40" y="9.05" fill="#f0f0f0" font-family="'Liberation Sans','Noto Sans CJK JP',sans-serif" font-size="6.7" textLength="13.24" lengthAdjust="spacingAndGlyphs">本数</text>
<rect x="321" y="1.5" width="27.6" height="9.4" fill="#fff"/>
<text x="330.07" y="8.50" fill="#222" stroke="#222" stroke-width="0.15" font-family="'Liberation Mono',monospace" font-size="7.6" textLength="9.93" lengthAdjust="spacingAndGlyphs">600</text>
<rect x="341" y="2.1" width="7.2" height="8.2" fill="#d0ccc4" stroke="#8a8a8a" stroke-width="0.6"/>
<path d="M342 9.6L347.4 2.8" stroke="#777" stroke-width="0.6"/>
<rect x="352.2" y="1.5" width="18.4" height="9.6" fill="#5e5e5e"/>
<path d="M352.2 11.1V1.5H370.59999999999997" stroke="#a0a0a0" stroke-width="0.6" fill="none"/>
<path d="M352.2 11.1H370.59999999999997V1.5" stroke="#2e2e2e" stroke-width="0.7" fill="none"/>
<text x="361.40" y="8.5" text-anchor="middle" fill="#dcdcdc" font-family="'Liberation Sans','Noto Sans CJK JP',sans-serif" font-size="5.9" textLength="11.8" lengthAdjust="spacingAndGlyphs">適用</text>
<rect x="374.6" y="1.5" width="32.6" height="9.6" fill="#5e5e5e"/>
<path d="M374.6 11.1V1.5H407.20000000000005" stroke="#a0a0a0" stroke-width="0.6" fill="none"/>
<path d="M374.6 11.1H407.20000000000005V1.5" stroke="#2e2e2e" stroke-width="0.7" fill="none"/>
<text x="390.90" y="8.5" text-anchor="middle" fill="#dcdcdc" font-family="'Liberation Sans','Noto Sans CJK JP',sans-serif" font-size="5.9" textLength="29.4" lengthAdjust="spacingAndGlyphs">比較チャート</text>
<rect x="409.6" y="1.2" width="11" height="10.2" fill="#0a0a0a"/><path d="M411 1.8V11" stroke="#3c9c5c" stroke-width="1.1"/><path d="M411.4 2.1L419.6 5.3L414.8 6.3L411.4 8.6Z" fill="#3c9c5c"/>
</svg>
</body></html>
